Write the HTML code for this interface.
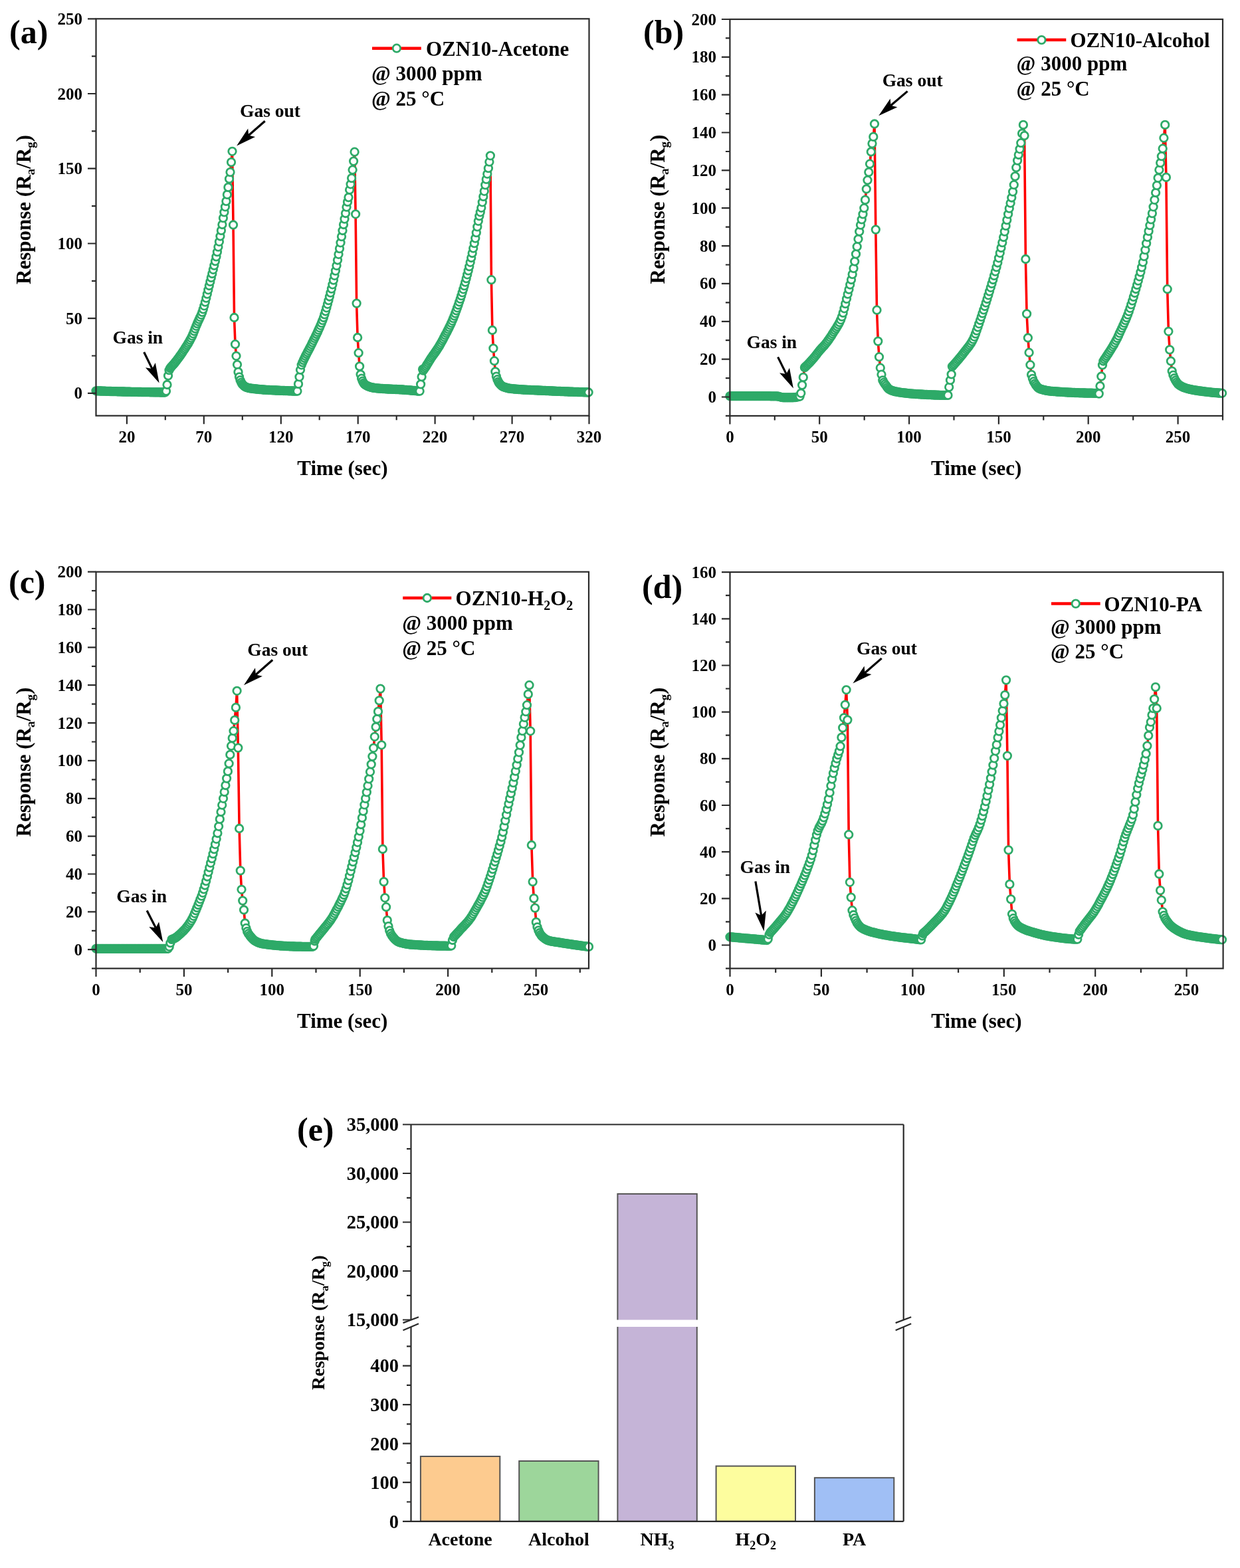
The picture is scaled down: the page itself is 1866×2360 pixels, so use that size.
<!DOCTYPE html><html><head><meta charset="utf-8"><style>html,body{margin:0;padding:0;background:#fff}svg{display:block}text{font-family:"Liberation Serif","Times New Roman",serif;font-weight:bold;fill:#000}</style></head><body>
<svg width="1866" height="2360" viewBox="0 0 1866 2360">
<rect width="1866" height="2360" fill="#fff"/>
<path d="M144.5 588.3 146 588.3 147.5 588.4 149 588.4 150.5 588.5 152 588.5 153.5 588.6 155.1 588.6 156.6 588.7 158.1 588.7 159.6 588.8 161.1 588.8 162.6 588.9 164.1 588.9 165.6 589 167.1 589 168.6 589.1 170.1 589.1 171.6 589.2 173.1 589.2 174.6 589.2 176.2 589.3 177.7 589.3 179.2 589.4 180.7 589.4 182.2 589.4 183.7 589.5 185.2 589.5 186.7 589.5 188.2 589.6 189.7 589.6 191.2 589.6 192.7 589.7 194.2 589.7 195.7 589.7 197.3 589.8 198.8 589.8 200.3 589.8 201.8 589.8 203.3 589.9 204.8 589.9 206.3 589.9 207.8 590 209.3 590 210.8 590 212.3 590 213.8 590.1 215.3 590.1 216.8 590.1 218.4 590.1 219.9 590.2 221.4 590.2 222.9 590.2 224.4 590.2 225.9 590.3 227.4 590.3 228.9 590.3 230.4 590.3 231.9 590.4 233.4 590.4 234.9 590.4 236.4 590.4 237.9 590.4 239.5 590.4 241 590.5 242.5 590.5 244 590.5 245.5 590.5 247 590.5 248.5 590.5 250 588.7 251.5 579 253 565.5 254.5 557.2 256 554.2 257.5 552.4 259 550.7 260.6 549 262.1 547.2 263.6 545.4 265.1 543.5 266.6 541.5 268.1 539.5 269.6 537.5 271.1 535.4 272.6 533.2 274.1 531 275.6 528.8 277.1 526.5 278.6 524.1 280.1 521.8 281.7 519.4 283.2 516.9 284.7 514.3 286.2 511.6 287.7 508.8 289.2 505.7 290.7 502.3 292.2 498.5 293.7 494.6 295.2 490.8 296.7 487.1 298.2 483.8 299.7 480.6 301.2 477.3 302.8 473.8 304.3 469.9 305.8 465.4 307.3 460.3 308.8 454.7 310.3 448.7 311.8 442.6 313.3 436.3 314.8 430 316.3 423.9 317.8 417.9 319.3 411.9 320.8 405.8 322.3 399.6 323.9 393.1 325.4 386.4 326.9 379.2 328.4 371.7 329.9 363.8 331.4 355.5 332.9 346.9 334.4 338 335.9 328.1 337.4 319.4 338.9 311.3 340.4 302.9 341.9 292.9 343.4 281.9 345 269.2 346.5 259.1 348 244.1 349.5 227.8 351 338.5 352.5 478 354 518.2 355.5 535.8 357 548.8 358.5 559.9 360 567.3 361.5 572.2 363 575.6 364.5 578.1 366.1 579.7 367.6 581.1 369.1 582.2 370.6 582.9 372.1 583.4 373.6 583.8 375.1 584.1 376.6 584.4 378.1 584.6 379.6 584.8 381.1 585 382.6 585.2 384.1 585.4 385.7 585.5 387.2 585.7 388.7 585.8 390.2 586 391.7 586.1 393.2 586.2 394.7 586.4 396.2 586.5 397.7 586.6 399.2 586.7 400.7 586.8 402.2 586.9 403.7 587 405.2 587 406.8 587.1 408.3 587.2 409.8 587.3 411.3 587.3 412.8 587.4 414.3 587.5 415.8 587.5 417.3 587.6 418.8 587.7 420.3 587.7 421.8 587.8 423.3 587.9 424.8 587.9 426.3 588 427.9 588 429.4 588.1 430.9 588.2 432.4 588.2 433.9 588.3 435.4 588.3 436.9 588.4 438.4 588.4 439.9 588.5 441.4 588.5 442.9 588.6 444.4 588.6 445.9 588.7 447.4 588.7 449 577.9 450.5 567.3 452 556.7 453.7 549.3 455.2 545.5 456.7 542.1 458.2 539 459.7 535.9 461.2 533 462.7 530.1 464.3 527.3 465.8 524.4 467.3 521.5 468.8 518.5 470.3 515.4 471.8 512.3 473.3 509.2 474.8 506.1 476.3 503 477.8 499.9 479.3 496.6 480.8 493.3 482.3 489.8 483.8 486.1 485.4 482.2 486.9 478 488.4 473.4 489.9 468.5 491.4 463.3 492.9 457.8 494.4 452.2 495.9 446.5 497.4 440.6 498.9 434.6 500.4 428.3 501.9 421.7 503.4 414.8 504.9 407.6 506.5 399.8 508 391.5 509.5 382.8 511 374.1 512.5 365.3 514 356.1 515.5 347 517 338 518.5 329.6 520 321 521.5 311.7 523 303.9 524.5 297.1 526.1 285.7 527.6 277.3 529.1 268.1 530.6 255.7 532.1 242.6 533.6 228.7 535.1 322.3 536.6 456.6 538.1 508 539.6 531.2 541.1 551.4 542.6 563.6 544.1 569.7 545.6 573.7 547.2 576.6 548.7 578.5 550.2 579.5 551.7 580.3 553.2 581.1 554.7 581.7 556.2 582.3 557.7 582.7 559.2 583.1 560.7 583.5 562.2 583.7 563.7 583.9 565.2 584.1 566.7 584.3 568.3 584.4 569.8 584.6 571.3 584.7 572.8 584.8 574.3 584.9 575.8 585 577.3 585.1 578.8 585.2 580.3 585.3 581.8 585.4 583.3 585.5 584.8 585.5 586.3 585.6 587.8 585.7 589.4 585.7 590.9 585.8 592.4 585.9 593.9 585.9 595.4 586 596.9 586 598.4 586.1 599.9 586.2 601.4 586.3 602.9 586.4 604.4 586.4 605.9 586.5 607.4 586.6 608.9 586.8 610.5 586.9 612 587 613.5 587.1 615 587.2 616.5 587.4 618 587.5 619.5 587.6 621 587.8 622.5 587.9 624 588 625.5 588.2 627 588.3 628.5 588.5 630 588.6 631.6 588.7 633.1 578.4 634.6 567.1 636.1 555.8 636.9 557.6 638.4 555.5 639.9 553.2 641.4 550.9 642.9 548.4 644.4 546 645.9 543.5 647.4 541.1 648.9 538.7 650.5 536.5 652 534.3 653.5 532.2 655 530.1 656.5 527.9 658 525.7 659.5 523.4 661 521 662.5 518.4 664 515.8 665.5 513 667 510.2 668.5 507.3 670 504.4 671.6 501.5 673.1 498.6 674.6 495.6 676.1 492.6 677.6 489.5 679.1 486.2 680.6 482.8 682.1 479.2 683.6 475.5 685.1 471.6 686.6 467.5 688.1 463.3 689.6 459 691.1 454.5 692.7 449.9 694.2 445.2 695.7 440.3 697.2 435.3 698.7 430.1 700.2 424.7 701.7 419.1 703.2 413.3 704.7 407.4 706.2 401.2 707.7 394.8 709.2 388 710.7 381 712.2 373.7 713.8 366.2 715.3 358.6 716.8 350.2 718.3 341.4 719.8 332.8 721.3 325.2 722.8 319.3 724.3 312.8 725.8 304.3 727.3 295.9 728.8 287.8 730.3 278.4 731.8 269.9 733.3 261.8 734.9 253.2 736.4 243.7 737.9 234.3 739.4 421.2 740.9 497 742.4 524.3 743.9 543.2 745.4 559.4 746.9 566.6 748.4 571.2 749.9 574.6 751.4 576.9 752.9 578.8 754.4 580.3 756 581.4 757.5 582.1 759 582.6 760.5 583.1 762 583.6 763.5 584 765 584.3 766.5 584.6 768 584.8 769.5 585 771 585.2 772.5 585.3 774 585.5 775.5 585.6 777.1 585.7 778.6 585.9 780.1 586 781.6 586.1 783.1 586.2 784.6 586.3 786.1 586.4 787.6 586.5 789.1 586.6 790.6 586.7 792.1 586.7 793.6 586.8 795.1 586.9 796.6 587 798.2 587 799.7 587.1 801.2 587.2 802.7 587.2 804.2 587.3 805.7 587.3 807.2 587.4 808.7 587.5 810.2 587.5 811.7 587.6 813.2 587.7 814.7 587.7 816.2 587.8 817.7 587.9 819.3 587.9 820.8 588 822.3 588.1 823.8 588.1 825.3 588.2 826.8 588.3 828.3 588.4 829.8 588.4 831.3 588.5 832.8 588.6 834.3 588.6 835.8 588.7 837.3 588.8 838.8 588.8 840.4 588.9 841.9 588.9 843.4 589 844.9 589.1 846.4 589.1 847.9 589.2 849.4 589.3 850.9 589.3 852.4 589.4 853.9 589.4 855.4 589.5 856.9 589.6 858.4 589.6 860 589.7 861.5 589.7 863 589.8 864.5 589.8 866 589.9 867.5 589.9 869 590 870.5 590 872 590.1 873.5 590.1 875 590.2 876.5 590.2 878 590.3 879.5 590.3 881.1 590.4 882.6 590.4 884.1 590.5 885.6 590.5" stroke="#ff0000" stroke-width="3.6" fill="none" stroke-linejoin="round"/>
<g fill="#fff" stroke="#2eaa68" stroke-width="2.8">
<circle cx="144.5" cy="588.3" r="5.75"/>
<circle cx="146" cy="588.3" r="5.75"/>
<circle cx="147.5" cy="588.4" r="5.75"/>
<circle cx="149" cy="588.4" r="5.75"/>
<circle cx="150.5" cy="588.5" r="5.75"/>
<circle cx="152" cy="588.5" r="5.75"/>
<circle cx="153.5" cy="588.6" r="5.75"/>
<circle cx="155.1" cy="588.6" r="5.75"/>
<circle cx="156.6" cy="588.7" r="5.75"/>
<circle cx="158.1" cy="588.7" r="5.75"/>
<circle cx="159.6" cy="588.8" r="5.75"/>
<circle cx="161.1" cy="588.8" r="5.75"/>
<circle cx="162.6" cy="588.9" r="5.75"/>
<circle cx="164.1" cy="588.9" r="5.75"/>
<circle cx="165.6" cy="589" r="5.75"/>
<circle cx="167.1" cy="589" r="5.75"/>
<circle cx="168.6" cy="589.1" r="5.75"/>
<circle cx="170.1" cy="589.1" r="5.75"/>
<circle cx="171.6" cy="589.2" r="5.75"/>
<circle cx="173.1" cy="589.2" r="5.75"/>
<circle cx="174.6" cy="589.2" r="5.75"/>
<circle cx="176.2" cy="589.3" r="5.75"/>
<circle cx="177.7" cy="589.3" r="5.75"/>
<circle cx="179.2" cy="589.4" r="5.75"/>
<circle cx="180.7" cy="589.4" r="5.75"/>
<circle cx="182.2" cy="589.4" r="5.75"/>
<circle cx="183.7" cy="589.5" r="5.75"/>
<circle cx="185.2" cy="589.5" r="5.75"/>
<circle cx="186.7" cy="589.5" r="5.75"/>
<circle cx="188.2" cy="589.6" r="5.75"/>
<circle cx="189.7" cy="589.6" r="5.75"/>
<circle cx="191.2" cy="589.6" r="5.75"/>
<circle cx="192.7" cy="589.7" r="5.75"/>
<circle cx="194.2" cy="589.7" r="5.75"/>
<circle cx="195.7" cy="589.7" r="5.75"/>
<circle cx="197.3" cy="589.8" r="5.75"/>
<circle cx="198.8" cy="589.8" r="5.75"/>
<circle cx="200.3" cy="589.8" r="5.75"/>
<circle cx="201.8" cy="589.8" r="5.75"/>
<circle cx="203.3" cy="589.9" r="5.75"/>
<circle cx="204.8" cy="589.9" r="5.75"/>
<circle cx="206.3" cy="589.9" r="5.75"/>
<circle cx="207.8" cy="590" r="5.75"/>
<circle cx="209.3" cy="590" r="5.75"/>
<circle cx="210.8" cy="590" r="5.75"/>
<circle cx="212.3" cy="590" r="5.75"/>
<circle cx="213.8" cy="590.1" r="5.75"/>
<circle cx="215.3" cy="590.1" r="5.75"/>
<circle cx="216.8" cy="590.1" r="5.75"/>
<circle cx="218.4" cy="590.1" r="5.75"/>
<circle cx="219.9" cy="590.2" r="5.75"/>
<circle cx="221.4" cy="590.2" r="5.75"/>
<circle cx="222.9" cy="590.2" r="5.75"/>
<circle cx="224.4" cy="590.2" r="5.75"/>
<circle cx="225.9" cy="590.3" r="5.75"/>
<circle cx="227.4" cy="590.3" r="5.75"/>
<circle cx="228.9" cy="590.3" r="5.75"/>
<circle cx="230.4" cy="590.3" r="5.75"/>
<circle cx="231.9" cy="590.4" r="5.75"/>
<circle cx="233.4" cy="590.4" r="5.75"/>
<circle cx="234.9" cy="590.4" r="5.75"/>
<circle cx="236.4" cy="590.4" r="5.75"/>
<circle cx="237.9" cy="590.4" r="5.75"/>
<circle cx="239.5" cy="590.4" r="5.75"/>
<circle cx="241" cy="590.5" r="5.75"/>
<circle cx="242.5" cy="590.5" r="5.75"/>
<circle cx="244" cy="590.5" r="5.75"/>
<circle cx="245.5" cy="590.5" r="5.75"/>
<circle cx="247" cy="590.5" r="5.75"/>
<circle cx="248.5" cy="590.5" r="5.75"/>
<circle cx="250" cy="588.7" r="5.75"/>
<circle cx="251.5" cy="579" r="5.75"/>
<circle cx="253" cy="565.5" r="5.75"/>
<circle cx="254.5" cy="557.2" r="5.75"/>
<circle cx="256" cy="554.2" r="5.75"/>
<circle cx="257.5" cy="552.4" r="5.75"/>
<circle cx="259" cy="550.7" r="5.75"/>
<circle cx="260.6" cy="549" r="5.75"/>
<circle cx="262.1" cy="547.2" r="5.75"/>
<circle cx="263.6" cy="545.4" r="5.75"/>
<circle cx="265.1" cy="543.5" r="5.75"/>
<circle cx="266.6" cy="541.5" r="5.75"/>
<circle cx="268.1" cy="539.5" r="5.75"/>
<circle cx="269.6" cy="537.5" r="5.75"/>
<circle cx="271.1" cy="535.4" r="5.75"/>
<circle cx="272.6" cy="533.2" r="5.75"/>
<circle cx="274.1" cy="531" r="5.75"/>
<circle cx="275.6" cy="528.8" r="5.75"/>
<circle cx="277.1" cy="526.5" r="5.75"/>
<circle cx="278.6" cy="524.1" r="5.75"/>
<circle cx="280.1" cy="521.8" r="5.75"/>
<circle cx="281.7" cy="519.4" r="5.75"/>
<circle cx="283.2" cy="516.9" r="5.75"/>
<circle cx="284.7" cy="514.3" r="5.75"/>
<circle cx="286.2" cy="511.6" r="5.75"/>
<circle cx="287.7" cy="508.8" r="5.75"/>
<circle cx="289.2" cy="505.7" r="5.75"/>
<circle cx="290.7" cy="502.3" r="5.75"/>
<circle cx="292.2" cy="498.5" r="5.75"/>
<circle cx="293.7" cy="494.6" r="5.75"/>
<circle cx="295.2" cy="490.8" r="5.75"/>
<circle cx="296.7" cy="487.1" r="5.75"/>
<circle cx="298.2" cy="483.8" r="5.75"/>
<circle cx="299.7" cy="480.6" r="5.75"/>
<circle cx="301.2" cy="477.3" r="5.75"/>
<circle cx="302.8" cy="473.8" r="5.75"/>
<circle cx="304.3" cy="469.9" r="5.75"/>
<circle cx="305.8" cy="465.4" r="5.75"/>
<circle cx="307.3" cy="460.3" r="5.75"/>
<circle cx="308.8" cy="454.7" r="5.75"/>
<circle cx="310.3" cy="448.7" r="5.75"/>
<circle cx="311.8" cy="442.6" r="5.75"/>
<circle cx="313.3" cy="436.3" r="5.75"/>
<circle cx="314.8" cy="430" r="5.75"/>
<circle cx="316.3" cy="423.9" r="5.75"/>
<circle cx="317.8" cy="417.9" r="5.75"/>
<circle cx="319.3" cy="411.9" r="5.75"/>
<circle cx="320.8" cy="405.8" r="5.75"/>
<circle cx="322.3" cy="399.6" r="5.75"/>
<circle cx="323.9" cy="393.1" r="5.75"/>
<circle cx="325.4" cy="386.4" r="5.75"/>
<circle cx="326.9" cy="379.2" r="5.75"/>
<circle cx="328.4" cy="371.7" r="5.75"/>
<circle cx="329.9" cy="363.8" r="5.75"/>
<circle cx="331.4" cy="355.5" r="5.75"/>
<circle cx="332.9" cy="346.9" r="5.75"/>
<circle cx="334.4" cy="338" r="5.75"/>
<circle cx="335.9" cy="328.1" r="5.75"/>
<circle cx="337.4" cy="319.4" r="5.75"/>
<circle cx="338.9" cy="311.3" r="5.75"/>
<circle cx="340.4" cy="302.9" r="5.75"/>
<circle cx="341.9" cy="292.9" r="5.75"/>
<circle cx="343.4" cy="281.9" r="5.75"/>
<circle cx="345" cy="269.2" r="5.75"/>
<circle cx="346.5" cy="259.1" r="5.75"/>
<circle cx="348" cy="244.1" r="5.75"/>
<circle cx="349.5" cy="227.8" r="5.75"/>
<circle cx="351" cy="338.5" r="5.75"/>
<circle cx="352.5" cy="478" r="5.75"/>
<circle cx="354" cy="518.2" r="5.75"/>
<circle cx="355.5" cy="535.8" r="5.75"/>
<circle cx="357" cy="548.8" r="5.75"/>
<circle cx="358.5" cy="559.9" r="5.75"/>
<circle cx="360" cy="567.3" r="5.75"/>
<circle cx="361.5" cy="572.2" r="5.75"/>
<circle cx="363" cy="575.6" r="5.75"/>
<circle cx="364.5" cy="578.1" r="5.75"/>
<circle cx="366.1" cy="579.7" r="5.75"/>
<circle cx="367.6" cy="581.1" r="5.75"/>
<circle cx="369.1" cy="582.2" r="5.75"/>
<circle cx="370.6" cy="582.9" r="5.75"/>
<circle cx="372.1" cy="583.4" r="5.75"/>
<circle cx="373.6" cy="583.8" r="5.75"/>
<circle cx="375.1" cy="584.1" r="5.75"/>
<circle cx="376.6" cy="584.4" r="5.75"/>
<circle cx="378.1" cy="584.6" r="5.75"/>
<circle cx="379.6" cy="584.8" r="5.75"/>
<circle cx="381.1" cy="585" r="5.75"/>
<circle cx="382.6" cy="585.2" r="5.75"/>
<circle cx="384.1" cy="585.4" r="5.75"/>
<circle cx="385.7" cy="585.5" r="5.75"/>
<circle cx="387.2" cy="585.7" r="5.75"/>
<circle cx="388.7" cy="585.8" r="5.75"/>
<circle cx="390.2" cy="586" r="5.75"/>
<circle cx="391.7" cy="586.1" r="5.75"/>
<circle cx="393.2" cy="586.2" r="5.75"/>
<circle cx="394.7" cy="586.4" r="5.75"/>
<circle cx="396.2" cy="586.5" r="5.75"/>
<circle cx="397.7" cy="586.6" r="5.75"/>
<circle cx="399.2" cy="586.7" r="5.75"/>
<circle cx="400.7" cy="586.8" r="5.75"/>
<circle cx="402.2" cy="586.9" r="5.75"/>
<circle cx="403.7" cy="587" r="5.75"/>
<circle cx="405.2" cy="587" r="5.75"/>
<circle cx="406.8" cy="587.1" r="5.75"/>
<circle cx="408.3" cy="587.2" r="5.75"/>
<circle cx="409.8" cy="587.3" r="5.75"/>
<circle cx="411.3" cy="587.3" r="5.75"/>
<circle cx="412.8" cy="587.4" r="5.75"/>
<circle cx="414.3" cy="587.5" r="5.75"/>
<circle cx="415.8" cy="587.5" r="5.75"/>
<circle cx="417.3" cy="587.6" r="5.75"/>
<circle cx="418.8" cy="587.7" r="5.75"/>
<circle cx="420.3" cy="587.7" r="5.75"/>
<circle cx="421.8" cy="587.8" r="5.75"/>
<circle cx="423.3" cy="587.9" r="5.75"/>
<circle cx="424.8" cy="587.9" r="5.75"/>
<circle cx="426.3" cy="588" r="5.75"/>
<circle cx="427.9" cy="588" r="5.75"/>
<circle cx="429.4" cy="588.1" r="5.75"/>
<circle cx="430.9" cy="588.2" r="5.75"/>
<circle cx="432.4" cy="588.2" r="5.75"/>
<circle cx="433.9" cy="588.3" r="5.75"/>
<circle cx="435.4" cy="588.3" r="5.75"/>
<circle cx="436.9" cy="588.4" r="5.75"/>
<circle cx="438.4" cy="588.4" r="5.75"/>
<circle cx="439.9" cy="588.5" r="5.75"/>
<circle cx="441.4" cy="588.5" r="5.75"/>
<circle cx="442.9" cy="588.6" r="5.75"/>
<circle cx="444.4" cy="588.6" r="5.75"/>
<circle cx="445.9" cy="588.7" r="5.75"/>
<circle cx="447.4" cy="588.7" r="5.75"/>
<circle cx="449" cy="577.9" r="5.75"/>
<circle cx="450.5" cy="567.3" r="5.75"/>
<circle cx="452" cy="556.7" r="5.75"/>
<circle cx="453.7" cy="549.3" r="5.75"/>
<circle cx="455.2" cy="545.5" r="5.75"/>
<circle cx="456.7" cy="542.1" r="5.75"/>
<circle cx="458.2" cy="539" r="5.75"/>
<circle cx="459.7" cy="535.9" r="5.75"/>
<circle cx="461.2" cy="533" r="5.75"/>
<circle cx="462.7" cy="530.1" r="5.75"/>
<circle cx="464.3" cy="527.3" r="5.75"/>
<circle cx="465.8" cy="524.4" r="5.75"/>
<circle cx="467.3" cy="521.5" r="5.75"/>
<circle cx="468.8" cy="518.5" r="5.75"/>
<circle cx="470.3" cy="515.4" r="5.75"/>
<circle cx="471.8" cy="512.3" r="5.75"/>
<circle cx="473.3" cy="509.2" r="5.75"/>
<circle cx="474.8" cy="506.1" r="5.75"/>
<circle cx="476.3" cy="503" r="5.75"/>
<circle cx="477.8" cy="499.9" r="5.75"/>
<circle cx="479.3" cy="496.6" r="5.75"/>
<circle cx="480.8" cy="493.3" r="5.75"/>
<circle cx="482.3" cy="489.8" r="5.75"/>
<circle cx="483.8" cy="486.1" r="5.75"/>
<circle cx="485.4" cy="482.2" r="5.75"/>
<circle cx="486.9" cy="478" r="5.75"/>
<circle cx="488.4" cy="473.4" r="5.75"/>
<circle cx="489.9" cy="468.5" r="5.75"/>
<circle cx="491.4" cy="463.3" r="5.75"/>
<circle cx="492.9" cy="457.8" r="5.75"/>
<circle cx="494.4" cy="452.2" r="5.75"/>
<circle cx="495.9" cy="446.5" r="5.75"/>
<circle cx="497.4" cy="440.6" r="5.75"/>
<circle cx="498.9" cy="434.6" r="5.75"/>
<circle cx="500.4" cy="428.3" r="5.75"/>
<circle cx="501.9" cy="421.7" r="5.75"/>
<circle cx="503.4" cy="414.8" r="5.75"/>
<circle cx="504.9" cy="407.6" r="5.75"/>
<circle cx="506.5" cy="399.8" r="5.75"/>
<circle cx="508" cy="391.5" r="5.75"/>
<circle cx="509.5" cy="382.8" r="5.75"/>
<circle cx="511" cy="374.1" r="5.75"/>
<circle cx="512.5" cy="365.3" r="5.75"/>
<circle cx="514" cy="356.1" r="5.75"/>
<circle cx="515.5" cy="347" r="5.75"/>
<circle cx="517" cy="338" r="5.75"/>
<circle cx="518.5" cy="329.6" r="5.75"/>
<circle cx="520" cy="321" r="5.75"/>
<circle cx="521.5" cy="311.7" r="5.75"/>
<circle cx="523" cy="303.9" r="5.75"/>
<circle cx="524.5" cy="297.1" r="5.75"/>
<circle cx="526.1" cy="285.7" r="5.75"/>
<circle cx="527.6" cy="277.3" r="5.75"/>
<circle cx="529.1" cy="268.1" r="5.75"/>
<circle cx="530.6" cy="255.7" r="5.75"/>
<circle cx="532.1" cy="242.6" r="5.75"/>
<circle cx="533.6" cy="228.7" r="5.75"/>
<circle cx="535.1" cy="322.3" r="5.75"/>
<circle cx="536.6" cy="456.6" r="5.75"/>
<circle cx="538.1" cy="508" r="5.75"/>
<circle cx="539.6" cy="531.2" r="5.75"/>
<circle cx="541.1" cy="551.4" r="5.75"/>
<circle cx="542.6" cy="563.6" r="5.75"/>
<circle cx="544.1" cy="569.7" r="5.75"/>
<circle cx="545.6" cy="573.7" r="5.75"/>
<circle cx="547.2" cy="576.6" r="5.75"/>
<circle cx="548.7" cy="578.5" r="5.75"/>
<circle cx="550.2" cy="579.5" r="5.75"/>
<circle cx="551.7" cy="580.3" r="5.75"/>
<circle cx="553.2" cy="581.1" r="5.75"/>
<circle cx="554.7" cy="581.7" r="5.75"/>
<circle cx="556.2" cy="582.3" r="5.75"/>
<circle cx="557.7" cy="582.7" r="5.75"/>
<circle cx="559.2" cy="583.1" r="5.75"/>
<circle cx="560.7" cy="583.5" r="5.75"/>
<circle cx="562.2" cy="583.7" r="5.75"/>
<circle cx="563.7" cy="583.9" r="5.75"/>
<circle cx="565.2" cy="584.1" r="5.75"/>
<circle cx="566.7" cy="584.3" r="5.75"/>
<circle cx="568.3" cy="584.4" r="5.75"/>
<circle cx="569.8" cy="584.6" r="5.75"/>
<circle cx="571.3" cy="584.7" r="5.75"/>
<circle cx="572.8" cy="584.8" r="5.75"/>
<circle cx="574.3" cy="584.9" r="5.75"/>
<circle cx="575.8" cy="585" r="5.75"/>
<circle cx="577.3" cy="585.1" r="5.75"/>
<circle cx="578.8" cy="585.2" r="5.75"/>
<circle cx="580.3" cy="585.3" r="5.75"/>
<circle cx="581.8" cy="585.4" r="5.75"/>
<circle cx="583.3" cy="585.5" r="5.75"/>
<circle cx="584.8" cy="585.5" r="5.75"/>
<circle cx="586.3" cy="585.6" r="5.75"/>
<circle cx="587.8" cy="585.7" r="5.75"/>
<circle cx="589.4" cy="585.7" r="5.75"/>
<circle cx="590.9" cy="585.8" r="5.75"/>
<circle cx="592.4" cy="585.9" r="5.75"/>
<circle cx="593.9" cy="585.9" r="5.75"/>
<circle cx="595.4" cy="586" r="5.75"/>
<circle cx="596.9" cy="586" r="5.75"/>
<circle cx="598.4" cy="586.1" r="5.75"/>
<circle cx="599.9" cy="586.2" r="5.75"/>
<circle cx="601.4" cy="586.3" r="5.75"/>
<circle cx="602.9" cy="586.4" r="5.75"/>
<circle cx="604.4" cy="586.4" r="5.75"/>
<circle cx="605.9" cy="586.5" r="5.75"/>
<circle cx="607.4" cy="586.6" r="5.75"/>
<circle cx="608.9" cy="586.8" r="5.75"/>
<circle cx="610.5" cy="586.9" r="5.75"/>
<circle cx="612" cy="587" r="5.75"/>
<circle cx="613.5" cy="587.1" r="5.75"/>
<circle cx="615" cy="587.2" r="5.75"/>
<circle cx="616.5" cy="587.4" r="5.75"/>
<circle cx="618" cy="587.5" r="5.75"/>
<circle cx="619.5" cy="587.6" r="5.75"/>
<circle cx="621" cy="587.8" r="5.75"/>
<circle cx="622.5" cy="587.9" r="5.75"/>
<circle cx="624" cy="588" r="5.75"/>
<circle cx="625.5" cy="588.2" r="5.75"/>
<circle cx="627" cy="588.3" r="5.75"/>
<circle cx="628.5" cy="588.5" r="5.75"/>
<circle cx="630" cy="588.6" r="5.75"/>
<circle cx="631.6" cy="588.7" r="5.75"/>
<circle cx="633.1" cy="578.4" r="5.75"/>
<circle cx="634.6" cy="567.1" r="5.75"/>
<circle cx="636.1" cy="555.8" r="5.75"/>
<circle cx="636.9" cy="557.6" r="5.75"/>
<circle cx="638.4" cy="555.5" r="5.75"/>
<circle cx="639.9" cy="553.2" r="5.75"/>
<circle cx="641.4" cy="550.9" r="5.75"/>
<circle cx="642.9" cy="548.4" r="5.75"/>
<circle cx="644.4" cy="546" r="5.75"/>
<circle cx="645.9" cy="543.5" r="5.75"/>
<circle cx="647.4" cy="541.1" r="5.75"/>
<circle cx="648.9" cy="538.7" r="5.75"/>
<circle cx="650.5" cy="536.5" r="5.75"/>
<circle cx="652" cy="534.3" r="5.75"/>
<circle cx="653.5" cy="532.2" r="5.75"/>
<circle cx="655" cy="530.1" r="5.75"/>
<circle cx="656.5" cy="527.9" r="5.75"/>
<circle cx="658" cy="525.7" r="5.75"/>
<circle cx="659.5" cy="523.4" r="5.75"/>
<circle cx="661" cy="521" r="5.75"/>
<circle cx="662.5" cy="518.4" r="5.75"/>
<circle cx="664" cy="515.8" r="5.75"/>
<circle cx="665.5" cy="513" r="5.75"/>
<circle cx="667" cy="510.2" r="5.75"/>
<circle cx="668.5" cy="507.3" r="5.75"/>
<circle cx="670" cy="504.4" r="5.75"/>
<circle cx="671.6" cy="501.5" r="5.75"/>
<circle cx="673.1" cy="498.6" r="5.75"/>
<circle cx="674.6" cy="495.6" r="5.75"/>
<circle cx="676.1" cy="492.6" r="5.75"/>
<circle cx="677.6" cy="489.5" r="5.75"/>
<circle cx="679.1" cy="486.2" r="5.75"/>
<circle cx="680.6" cy="482.8" r="5.75"/>
<circle cx="682.1" cy="479.2" r="5.75"/>
<circle cx="683.6" cy="475.5" r="5.75"/>
<circle cx="685.1" cy="471.6" r="5.75"/>
<circle cx="686.6" cy="467.5" r="5.75"/>
<circle cx="688.1" cy="463.3" r="5.75"/>
<circle cx="689.6" cy="459" r="5.75"/>
<circle cx="691.1" cy="454.5" r="5.75"/>
<circle cx="692.7" cy="449.9" r="5.75"/>
<circle cx="694.2" cy="445.2" r="5.75"/>
<circle cx="695.7" cy="440.3" r="5.75"/>
<circle cx="697.2" cy="435.3" r="5.75"/>
<circle cx="698.7" cy="430.1" r="5.75"/>
<circle cx="700.2" cy="424.7" r="5.75"/>
<circle cx="701.7" cy="419.1" r="5.75"/>
<circle cx="703.2" cy="413.3" r="5.75"/>
<circle cx="704.7" cy="407.4" r="5.75"/>
<circle cx="706.2" cy="401.2" r="5.75"/>
<circle cx="707.7" cy="394.8" r="5.75"/>
<circle cx="709.2" cy="388" r="5.75"/>
<circle cx="710.7" cy="381" r="5.75"/>
<circle cx="712.2" cy="373.7" r="5.75"/>
<circle cx="713.8" cy="366.2" r="5.75"/>
<circle cx="715.3" cy="358.6" r="5.75"/>
<circle cx="716.8" cy="350.2" r="5.75"/>
<circle cx="718.3" cy="341.4" r="5.75"/>
<circle cx="719.8" cy="332.8" r="5.75"/>
<circle cx="721.3" cy="325.2" r="5.75"/>
<circle cx="722.8" cy="319.3" r="5.75"/>
<circle cx="724.3" cy="312.8" r="5.75"/>
<circle cx="725.8" cy="304.3" r="5.75"/>
<circle cx="727.3" cy="295.9" r="5.75"/>
<circle cx="728.8" cy="287.8" r="5.75"/>
<circle cx="730.3" cy="278.4" r="5.75"/>
<circle cx="731.8" cy="269.9" r="5.75"/>
<circle cx="733.3" cy="261.8" r="5.75"/>
<circle cx="734.9" cy="253.2" r="5.75"/>
<circle cx="736.4" cy="243.7" r="5.75"/>
<circle cx="737.9" cy="234.3" r="5.75"/>
<circle cx="739.4" cy="421.2" r="5.75"/>
<circle cx="740.9" cy="497" r="5.75"/>
<circle cx="742.4" cy="524.3" r="5.75"/>
<circle cx="743.9" cy="543.2" r="5.75"/>
<circle cx="745.4" cy="559.4" r="5.75"/>
<circle cx="746.9" cy="566.6" r="5.75"/>
<circle cx="748.4" cy="571.2" r="5.75"/>
<circle cx="749.9" cy="574.6" r="5.75"/>
<circle cx="751.4" cy="576.9" r="5.75"/>
<circle cx="752.9" cy="578.8" r="5.75"/>
<circle cx="754.4" cy="580.3" r="5.75"/>
<circle cx="756" cy="581.4" r="5.75"/>
<circle cx="757.5" cy="582.1" r="5.75"/>
<circle cx="759" cy="582.6" r="5.75"/>
<circle cx="760.5" cy="583.1" r="5.75"/>
<circle cx="762" cy="583.6" r="5.75"/>
<circle cx="763.5" cy="584" r="5.75"/>
<circle cx="765" cy="584.3" r="5.75"/>
<circle cx="766.5" cy="584.6" r="5.75"/>
<circle cx="768" cy="584.8" r="5.75"/>
<circle cx="769.5" cy="585" r="5.75"/>
<circle cx="771" cy="585.2" r="5.75"/>
<circle cx="772.5" cy="585.3" r="5.75"/>
<circle cx="774" cy="585.5" r="5.75"/>
<circle cx="775.5" cy="585.6" r="5.75"/>
<circle cx="777.1" cy="585.7" r="5.75"/>
<circle cx="778.6" cy="585.9" r="5.75"/>
<circle cx="780.1" cy="586" r="5.75"/>
<circle cx="781.6" cy="586.1" r="5.75"/>
<circle cx="783.1" cy="586.2" r="5.75"/>
<circle cx="784.6" cy="586.3" r="5.75"/>
<circle cx="786.1" cy="586.4" r="5.75"/>
<circle cx="787.6" cy="586.5" r="5.75"/>
<circle cx="789.1" cy="586.6" r="5.75"/>
<circle cx="790.6" cy="586.7" r="5.75"/>
<circle cx="792.1" cy="586.7" r="5.75"/>
<circle cx="793.6" cy="586.8" r="5.75"/>
<circle cx="795.1" cy="586.9" r="5.75"/>
<circle cx="796.6" cy="587" r="5.75"/>
<circle cx="798.2" cy="587" r="5.75"/>
<circle cx="799.7" cy="587.1" r="5.75"/>
<circle cx="801.2" cy="587.2" r="5.75"/>
<circle cx="802.7" cy="587.2" r="5.75"/>
<circle cx="804.2" cy="587.3" r="5.75"/>
<circle cx="805.7" cy="587.3" r="5.75"/>
<circle cx="807.2" cy="587.4" r="5.75"/>
<circle cx="808.7" cy="587.5" r="5.75"/>
<circle cx="810.2" cy="587.5" r="5.75"/>
<circle cx="811.7" cy="587.6" r="5.75"/>
<circle cx="813.2" cy="587.7" r="5.75"/>
<circle cx="814.7" cy="587.7" r="5.75"/>
<circle cx="816.2" cy="587.8" r="5.75"/>
<circle cx="817.7" cy="587.9" r="5.75"/>
<circle cx="819.3" cy="587.9" r="5.75"/>
<circle cx="820.8" cy="588" r="5.75"/>
<circle cx="822.3" cy="588.1" r="5.75"/>
<circle cx="823.8" cy="588.1" r="5.75"/>
<circle cx="825.3" cy="588.2" r="5.75"/>
<circle cx="826.8" cy="588.3" r="5.75"/>
<circle cx="828.3" cy="588.4" r="5.75"/>
<circle cx="829.8" cy="588.4" r="5.75"/>
<circle cx="831.3" cy="588.5" r="5.75"/>
<circle cx="832.8" cy="588.6" r="5.75"/>
<circle cx="834.3" cy="588.6" r="5.75"/>
<circle cx="835.8" cy="588.7" r="5.75"/>
<circle cx="837.3" cy="588.8" r="5.75"/>
<circle cx="838.8" cy="588.8" r="5.75"/>
<circle cx="840.4" cy="588.9" r="5.75"/>
<circle cx="841.9" cy="588.9" r="5.75"/>
<circle cx="843.4" cy="589" r="5.75"/>
<circle cx="844.9" cy="589.1" r="5.75"/>
<circle cx="846.4" cy="589.1" r="5.75"/>
<circle cx="847.9" cy="589.2" r="5.75"/>
<circle cx="849.4" cy="589.3" r="5.75"/>
<circle cx="850.9" cy="589.3" r="5.75"/>
<circle cx="852.4" cy="589.4" r="5.75"/>
<circle cx="853.9" cy="589.4" r="5.75"/>
<circle cx="855.4" cy="589.5" r="5.75"/>
<circle cx="856.9" cy="589.6" r="5.75"/>
<circle cx="858.4" cy="589.6" r="5.75"/>
<circle cx="860" cy="589.7" r="5.75"/>
<circle cx="861.5" cy="589.7" r="5.75"/>
<circle cx="863" cy="589.8" r="5.75"/>
<circle cx="864.5" cy="589.8" r="5.75"/>
<circle cx="866" cy="589.9" r="5.75"/>
<circle cx="867.5" cy="589.9" r="5.75"/>
<circle cx="869" cy="590" r="5.75"/>
<circle cx="870.5" cy="590" r="5.75"/>
<circle cx="872" cy="590.1" r="5.75"/>
<circle cx="873.5" cy="590.1" r="5.75"/>
<circle cx="875" cy="590.2" r="5.75"/>
<circle cx="876.5" cy="590.2" r="5.75"/>
<circle cx="878" cy="590.3" r="5.75"/>
<circle cx="879.5" cy="590.3" r="5.75"/>
<circle cx="881.1" cy="590.4" r="5.75"/>
<circle cx="882.6" cy="590.4" r="5.75"/>
<circle cx="884.1" cy="590.5" r="5.75"/>
<circle cx="885.6" cy="590.5" r="5.75"/>
</g>
<path d="M1098.4 596.1 1100.2 596.1 1101.9 596.1 1103.7 596.1 1105.4 596.1 1107.2 596.1 1108.9 596.1 1110.7 596.1 1112.4 596.1 1114.2 596.1 1115.9 596.1 1117.7 596.1 1119.4 596.1 1121.2 596.1 1122.9 596.1 1124.7 596.1 1126.4 596.1 1128.2 596.1 1130 596.1 1131.7 596.1 1133.5 596.1 1135.2 596.1 1137 596.1 1138.7 596.1 1140.5 596.1 1142.2 596.1 1144 596.2 1145.7 596.2 1147.5 596.2 1149.2 596.2 1151 596.2 1152.7 596.2 1154.5 596.2 1156.2 596.2 1158 596.2 1159.8 596.3 1161.5 596.3 1163.3 596.3 1165 596.3 1166.8 596.3 1168.5 596.3 1170.3 596.5 1172 596.8 1173.8 597.3 1175.5 597.8 1177.3 598.1 1179 598.3 1180.8 598.3 1182.5 598.3 1184.3 598.3 1186 598.3 1187.8 598.3 1189.5 598.3 1191.3 598.3 1193.1 598.3 1194.8 598.2 1196.6 598.1 1198.3 597.8 1200.1 597.4 1201.8 597 1203.6 596.6 1205.3 591.8 1207.1 579.6 1208.8 567.9 1210.9 553.1 1212.6 551.4 1214.4 549.8 1216.1 548 1217.9 546.2 1219.6 544.4 1221.4 542.4 1223.1 540.5 1224.9 538.4 1226.6 536.2 1228.4 534 1230.1 531.7 1231.9 529.5 1233.6 527.4 1235.4 525.4 1237.1 523.4 1238.9 521.5 1240.7 519.6 1242.4 517.5 1244.2 515.2 1245.9 512.9 1247.7 510.4 1249.4 507.8 1251.2 505.2 1252.9 502.4 1254.7 499.6 1256.4 496.9 1258.2 494.2 1259.9 491.4 1261.7 488.4 1263.4 485.1 1265.2 481.3 1266.9 476.7 1268.7 470.9 1270.5 464.3 1272.2 457.1 1274 449.8 1275.7 442.7 1277.5 435.7 1279.2 428.5 1281 421 1282.7 412.9 1284.5 403.9 1286.2 393.5 1288 382.4 1289.7 371.2 1291.5 359.8 1293.2 348.5 1295 338.7 1296.7 330.4 1298.5 322.4 1300.3 313.2 1302 300.9 1303.8 284.5 1305.5 271.2 1307.3 259.1 1309 246.7 1310.8 228.5 1312.5 216.1 1314.3 205.9 1316 186.5 1317.8 345.6 1319.5 466.7 1321.3 513.6 1323 537.2 1324.8 553.7 1326.5 563.7 1328.3 572.4 1330 575.7 1331.8 578.2 1333.6 580.6 1335.3 583.1 1337.1 585.1 1338.8 586.3 1340.6 587.2 1342.3 587.9 1344.1 588.5 1345.8 589 1347.6 589.4 1349.3 589.7 1351.1 590 1352.8 590.3 1354.6 590.6 1356.3 590.8 1358.1 591.1 1359.8 591.3 1361.6 591.5 1363.4 591.7 1365.1 591.9 1366.9 592.1 1368.6 592.3 1370.4 592.4 1372.1 592.6 1373.9 592.7 1375.6 592.8 1377.4 593 1379.1 593.1 1380.9 593.2 1382.6 593.3 1384.4 593.4 1386.1 593.5 1387.9 593.6 1389.6 593.7 1391.4 593.8 1393.2 593.9 1394.9 594 1396.7 594.1 1398.4 594.1 1400.2 594.2 1401.9 594.3 1403.7 594.4 1405.4 594.5 1407.2 594.5 1408.9 594.6 1410.7 594.7 1412.4 594.7 1414.2 594.8 1415.9 594.8 1417.7 594.8 1419.4 594.9 1421.2 594.9 1423 594.9 1424.7 594.9 1426.5 594.9 1428.2 582.7 1430 572.2 1431.7 563.4 1432.9 551.6 1434.7 549.7 1436.4 547.8 1438.2 545.8 1439.9 543.8 1441.7 541.7 1443.4 539.6 1445.2 537.5 1447 535.3 1448.7 533.1 1450.5 530.8 1452.2 528.6 1454 526.3 1455.7 524.1 1457.5 521.9 1459.2 519.5 1461 516.9 1462.7 514 1464.5 510.7 1466.2 506.8 1468 502.4 1469.7 497.6 1471.5 492.5 1473.2 487.3 1475 482 1476.8 476.8 1478.5 471.6 1480.3 466.4 1482 461 1483.8 455.6 1485.5 450 1487.3 444.3 1489 438.6 1490.8 432.8 1492.5 426.9 1494.3 421 1496 414.9 1497.8 408.7 1499.5 402.2 1501.3 395.5 1503 388.3 1504.8 380.8 1506.5 373 1508.3 365.1 1510.1 357 1511.8 348.6 1513.6 339.9 1515.3 331.1 1517.1 322.3 1518.8 313.7 1520.6 305.7 1522.3 297.5 1524.1 288.6 1525.8 278.2 1527.6 265.4 1529.3 252.2 1531.1 241.6 1532.8 233 1534.6 224.3 1536.3 215.2 1538.1 200.9 1539.9 187.9 1541.6 204.1 1543.4 390 1545.1 472.4 1546.9 508.5 1548.6 530.7 1550.4 549.2 1552.1 563.9 1553.9 569.8 1555.6 574.2 1557.4 577.3 1559.1 579.9 1560.9 582.1 1562.6 583.9 1564.4 585 1566.1 585.7 1567.9 586.2 1569.7 586.7 1571.4 587.2 1573.2 587.5 1574.9 587.9 1576.7 588.2 1578.4 588.4 1580.2 588.6 1581.9 588.8 1583.7 588.9 1585.4 589.1 1587.2 589.2 1588.9 589.3 1590.7 589.5 1592.4 589.6 1594.2 589.7 1595.9 589.8 1597.7 589.9 1599.5 590.1 1601.2 590.2 1603 590.3 1604.7 590.4 1606.5 590.5 1608.2 590.6 1610 590.7 1611.7 590.7 1613.5 590.8 1615.2 590.9 1617 591 1618.7 591.1 1620.5 591.1 1622.2 591.2 1624 591.3 1625.7 591.3 1627.5 591.4 1629.3 591.4 1631 591.5 1632.8 591.5 1634.5 591.6 1636.3 591.6 1638 591.7 1639.8 591.7 1641.5 591.7 1643.3 591.7 1645 591.8 1646.8 591.8 1648.5 591.8 1650.3 591.8 1652 591.8 1653.8 592.6 1655.5 581 1657.3 566.5 1659 549.4 1660.3 543.5 1662 540.8 1663.8 538.2 1665.5 535.6 1667.3 532.9 1669 530.2 1670.8 527.5 1672.5 524.7 1674.3 521.8 1676 518.9 1677.8 515.8 1679.5 512.5 1681.3 509 1683.1 505.3 1684.8 501.4 1686.6 497.5 1688.3 493.7 1690.1 489.9 1691.8 486.1 1693.6 482.2 1695.3 478.1 1697.1 473.7 1698.8 468.9 1700.6 463.8 1702.3 458.4 1704.1 452.7 1705.8 446.9 1707.6 441 1709.3 435 1711.1 428.9 1712.8 422.7 1714.6 416.3 1716.4 409.6 1718.1 402.4 1719.9 394.7 1721.6 385.9 1723.4 376.2 1725.1 366.4 1726.9 356.9 1728.6 347.9 1730.4 339.2 1732.1 330.4 1733.9 321.1 1735.6 311.3 1737.4 300.8 1739.1 290 1740.9 279.1 1742.6 267.8 1744.4 255.7 1746.2 245.1 1747.9 235.2 1749.7 223.7 1751.4 207.7 1753.2 187.9 1754.9 266.9 1756.7 435.2 1758.4 498.8 1760.2 526.4 1761.9 543.5 1763.7 558.6 1765.4 564.7 1767.2 569.1 1768.9 572.5 1770.7 575.3 1772.4 577.6 1774.2 579.2 1776 580.4 1777.7 581.4 1779.5 582.3 1781.2 583.1 1783 583.7 1784.7 584.3 1786.5 584.8 1788.2 585.3 1790 585.7 1791.7 586.1 1793.5 586.5 1795.2 586.8 1797 587.2 1798.7 587.5 1800.5 587.7 1802.2 588 1804 588.3 1805.8 588.5 1807.5 588.7 1809.3 589 1811 589.2 1812.8 589.4 1814.5 589.6 1816.3 589.8 1818 590 1819.8 590.2 1821.5 590.4 1823.3 590.6 1825 590.8 1826.8 590.9 1828.5 591.1 1830.3 591.2 1832 591.4 1833.8 591.5 1835.6 591.6 1837.3 591.7 1839.1 591.8" stroke="#ff0000" stroke-width="3.6" fill="none" stroke-linejoin="round"/>
<g fill="#fff" stroke="#2eaa68" stroke-width="2.8">
<circle cx="1098.4" cy="596.1" r="5.75"/>
<circle cx="1100.2" cy="596.1" r="5.75"/>
<circle cx="1101.9" cy="596.1" r="5.75"/>
<circle cx="1103.7" cy="596.1" r="5.75"/>
<circle cx="1105.4" cy="596.1" r="5.75"/>
<circle cx="1107.2" cy="596.1" r="5.75"/>
<circle cx="1108.9" cy="596.1" r="5.75"/>
<circle cx="1110.7" cy="596.1" r="5.75"/>
<circle cx="1112.4" cy="596.1" r="5.75"/>
<circle cx="1114.2" cy="596.1" r="5.75"/>
<circle cx="1115.9" cy="596.1" r="5.75"/>
<circle cx="1117.7" cy="596.1" r="5.75"/>
<circle cx="1119.4" cy="596.1" r="5.75"/>
<circle cx="1121.2" cy="596.1" r="5.75"/>
<circle cx="1122.9" cy="596.1" r="5.75"/>
<circle cx="1124.7" cy="596.1" r="5.75"/>
<circle cx="1126.4" cy="596.1" r="5.75"/>
<circle cx="1128.2" cy="596.1" r="5.75"/>
<circle cx="1130" cy="596.1" r="5.75"/>
<circle cx="1131.7" cy="596.1" r="5.75"/>
<circle cx="1133.5" cy="596.1" r="5.75"/>
<circle cx="1135.2" cy="596.1" r="5.75"/>
<circle cx="1137" cy="596.1" r="5.75"/>
<circle cx="1138.7" cy="596.1" r="5.75"/>
<circle cx="1140.5" cy="596.1" r="5.75"/>
<circle cx="1142.2" cy="596.1" r="5.75"/>
<circle cx="1144" cy="596.2" r="5.75"/>
<circle cx="1145.7" cy="596.2" r="5.75"/>
<circle cx="1147.5" cy="596.2" r="5.75"/>
<circle cx="1149.2" cy="596.2" r="5.75"/>
<circle cx="1151" cy="596.2" r="5.75"/>
<circle cx="1152.7" cy="596.2" r="5.75"/>
<circle cx="1154.5" cy="596.2" r="5.75"/>
<circle cx="1156.2" cy="596.2" r="5.75"/>
<circle cx="1158" cy="596.2" r="5.75"/>
<circle cx="1159.8" cy="596.3" r="5.75"/>
<circle cx="1161.5" cy="596.3" r="5.75"/>
<circle cx="1163.3" cy="596.3" r="5.75"/>
<circle cx="1165" cy="596.3" r="5.75"/>
<circle cx="1166.8" cy="596.3" r="5.75"/>
<circle cx="1168.5" cy="596.3" r="5.75"/>
<circle cx="1170.3" cy="596.5" r="5.75"/>
<circle cx="1172" cy="596.8" r="5.75"/>
<circle cx="1173.8" cy="597.3" r="5.75"/>
<circle cx="1175.5" cy="597.8" r="5.75"/>
<circle cx="1177.3" cy="598.1" r="5.75"/>
<circle cx="1179" cy="598.3" r="5.75"/>
<circle cx="1180.8" cy="598.3" r="5.75"/>
<circle cx="1182.5" cy="598.3" r="5.75"/>
<circle cx="1184.3" cy="598.3" r="5.75"/>
<circle cx="1186" cy="598.3" r="5.75"/>
<circle cx="1187.8" cy="598.3" r="5.75"/>
<circle cx="1189.5" cy="598.3" r="5.75"/>
<circle cx="1191.3" cy="598.3" r="5.75"/>
<circle cx="1193.1" cy="598.3" r="5.75"/>
<circle cx="1194.8" cy="598.2" r="5.75"/>
<circle cx="1196.6" cy="598.1" r="5.75"/>
<circle cx="1198.3" cy="597.8" r="5.75"/>
<circle cx="1200.1" cy="597.4" r="5.75"/>
<circle cx="1201.8" cy="597" r="5.75"/>
<circle cx="1203.6" cy="596.6" r="5.75"/>
<circle cx="1205.3" cy="591.8" r="5.75"/>
<circle cx="1207.1" cy="579.6" r="5.75"/>
<circle cx="1208.8" cy="567.9" r="5.75"/>
<circle cx="1210.9" cy="553.1" r="5.75"/>
<circle cx="1212.6" cy="551.4" r="5.75"/>
<circle cx="1214.4" cy="549.8" r="5.75"/>
<circle cx="1216.1" cy="548" r="5.75"/>
<circle cx="1217.9" cy="546.2" r="5.75"/>
<circle cx="1219.6" cy="544.4" r="5.75"/>
<circle cx="1221.4" cy="542.4" r="5.75"/>
<circle cx="1223.1" cy="540.5" r="5.75"/>
<circle cx="1224.9" cy="538.4" r="5.75"/>
<circle cx="1226.6" cy="536.2" r="5.75"/>
<circle cx="1228.4" cy="534" r="5.75"/>
<circle cx="1230.1" cy="531.7" r="5.75"/>
<circle cx="1231.9" cy="529.5" r="5.75"/>
<circle cx="1233.6" cy="527.4" r="5.75"/>
<circle cx="1235.4" cy="525.4" r="5.75"/>
<circle cx="1237.1" cy="523.4" r="5.75"/>
<circle cx="1238.9" cy="521.5" r="5.75"/>
<circle cx="1240.7" cy="519.6" r="5.75"/>
<circle cx="1242.4" cy="517.5" r="5.75"/>
<circle cx="1244.2" cy="515.2" r="5.75"/>
<circle cx="1245.9" cy="512.9" r="5.75"/>
<circle cx="1247.7" cy="510.4" r="5.75"/>
<circle cx="1249.4" cy="507.8" r="5.75"/>
<circle cx="1251.2" cy="505.2" r="5.75"/>
<circle cx="1252.9" cy="502.4" r="5.75"/>
<circle cx="1254.7" cy="499.6" r="5.75"/>
<circle cx="1256.4" cy="496.9" r="5.75"/>
<circle cx="1258.2" cy="494.2" r="5.75"/>
<circle cx="1259.9" cy="491.4" r="5.75"/>
<circle cx="1261.7" cy="488.4" r="5.75"/>
<circle cx="1263.4" cy="485.1" r="5.75"/>
<circle cx="1265.2" cy="481.3" r="5.75"/>
<circle cx="1266.9" cy="476.7" r="5.75"/>
<circle cx="1268.7" cy="470.9" r="5.75"/>
<circle cx="1270.5" cy="464.3" r="5.75"/>
<circle cx="1272.2" cy="457.1" r="5.75"/>
<circle cx="1274" cy="449.8" r="5.75"/>
<circle cx="1275.7" cy="442.7" r="5.75"/>
<circle cx="1277.5" cy="435.7" r="5.75"/>
<circle cx="1279.2" cy="428.5" r="5.75"/>
<circle cx="1281" cy="421" r="5.75"/>
<circle cx="1282.7" cy="412.9" r="5.75"/>
<circle cx="1284.5" cy="403.9" r="5.75"/>
<circle cx="1286.2" cy="393.5" r="5.75"/>
<circle cx="1288" cy="382.4" r="5.75"/>
<circle cx="1289.7" cy="371.2" r="5.75"/>
<circle cx="1291.5" cy="359.8" r="5.75"/>
<circle cx="1293.2" cy="348.5" r="5.75"/>
<circle cx="1295" cy="338.7" r="5.75"/>
<circle cx="1296.7" cy="330.4" r="5.75"/>
<circle cx="1298.5" cy="322.4" r="5.75"/>
<circle cx="1300.3" cy="313.2" r="5.75"/>
<circle cx="1302" cy="300.9" r="5.75"/>
<circle cx="1303.8" cy="284.5" r="5.75"/>
<circle cx="1305.5" cy="271.2" r="5.75"/>
<circle cx="1307.3" cy="259.1" r="5.75"/>
<circle cx="1309" cy="246.7" r="5.75"/>
<circle cx="1310.8" cy="228.5" r="5.75"/>
<circle cx="1312.5" cy="216.1" r="5.75"/>
<circle cx="1314.3" cy="205.9" r="5.75"/>
<circle cx="1316" cy="186.5" r="5.75"/>
<circle cx="1317.8" cy="345.6" r="5.75"/>
<circle cx="1319.5" cy="466.7" r="5.75"/>
<circle cx="1321.3" cy="513.6" r="5.75"/>
<circle cx="1323" cy="537.2" r="5.75"/>
<circle cx="1324.8" cy="553.7" r="5.75"/>
<circle cx="1326.5" cy="563.7" r="5.75"/>
<circle cx="1328.3" cy="572.4" r="5.75"/>
<circle cx="1330" cy="575.7" r="5.75"/>
<circle cx="1331.8" cy="578.2" r="5.75"/>
<circle cx="1333.6" cy="580.6" r="5.75"/>
<circle cx="1335.3" cy="583.1" r="5.75"/>
<circle cx="1337.1" cy="585.1" r="5.75"/>
<circle cx="1338.8" cy="586.3" r="5.75"/>
<circle cx="1340.6" cy="587.2" r="5.75"/>
<circle cx="1342.3" cy="587.9" r="5.75"/>
<circle cx="1344.1" cy="588.5" r="5.75"/>
<circle cx="1345.8" cy="589" r="5.75"/>
<circle cx="1347.6" cy="589.4" r="5.75"/>
<circle cx="1349.3" cy="589.7" r="5.75"/>
<circle cx="1351.1" cy="590" r="5.75"/>
<circle cx="1352.8" cy="590.3" r="5.75"/>
<circle cx="1354.6" cy="590.6" r="5.75"/>
<circle cx="1356.3" cy="590.8" r="5.75"/>
<circle cx="1358.1" cy="591.1" r="5.75"/>
<circle cx="1359.8" cy="591.3" r="5.75"/>
<circle cx="1361.6" cy="591.5" r="5.75"/>
<circle cx="1363.4" cy="591.7" r="5.75"/>
<circle cx="1365.1" cy="591.9" r="5.75"/>
<circle cx="1366.9" cy="592.1" r="5.75"/>
<circle cx="1368.6" cy="592.3" r="5.75"/>
<circle cx="1370.4" cy="592.4" r="5.75"/>
<circle cx="1372.1" cy="592.6" r="5.75"/>
<circle cx="1373.9" cy="592.7" r="5.75"/>
<circle cx="1375.6" cy="592.8" r="5.75"/>
<circle cx="1377.4" cy="593" r="5.75"/>
<circle cx="1379.1" cy="593.1" r="5.75"/>
<circle cx="1380.9" cy="593.2" r="5.75"/>
<circle cx="1382.6" cy="593.3" r="5.75"/>
<circle cx="1384.4" cy="593.4" r="5.75"/>
<circle cx="1386.1" cy="593.5" r="5.75"/>
<circle cx="1387.9" cy="593.6" r="5.75"/>
<circle cx="1389.6" cy="593.7" r="5.75"/>
<circle cx="1391.4" cy="593.8" r="5.75"/>
<circle cx="1393.2" cy="593.9" r="5.75"/>
<circle cx="1394.9" cy="594" r="5.75"/>
<circle cx="1396.7" cy="594.1" r="5.75"/>
<circle cx="1398.4" cy="594.1" r="5.75"/>
<circle cx="1400.2" cy="594.2" r="5.75"/>
<circle cx="1401.9" cy="594.3" r="5.75"/>
<circle cx="1403.7" cy="594.4" r="5.75"/>
<circle cx="1405.4" cy="594.5" r="5.75"/>
<circle cx="1407.2" cy="594.5" r="5.75"/>
<circle cx="1408.9" cy="594.6" r="5.75"/>
<circle cx="1410.7" cy="594.7" r="5.75"/>
<circle cx="1412.4" cy="594.7" r="5.75"/>
<circle cx="1414.2" cy="594.8" r="5.75"/>
<circle cx="1415.9" cy="594.8" r="5.75"/>
<circle cx="1417.7" cy="594.8" r="5.75"/>
<circle cx="1419.4" cy="594.9" r="5.75"/>
<circle cx="1421.2" cy="594.9" r="5.75"/>
<circle cx="1423" cy="594.9" r="5.75"/>
<circle cx="1424.7" cy="594.9" r="5.75"/>
<circle cx="1426.5" cy="594.9" r="5.75"/>
<circle cx="1428.2" cy="582.7" r="5.75"/>
<circle cx="1430" cy="572.2" r="5.75"/>
<circle cx="1431.7" cy="563.4" r="5.75"/>
<circle cx="1432.9" cy="551.6" r="5.75"/>
<circle cx="1434.7" cy="549.7" r="5.75"/>
<circle cx="1436.4" cy="547.8" r="5.75"/>
<circle cx="1438.2" cy="545.8" r="5.75"/>
<circle cx="1439.9" cy="543.8" r="5.75"/>
<circle cx="1441.7" cy="541.7" r="5.75"/>
<circle cx="1443.4" cy="539.6" r="5.75"/>
<circle cx="1445.2" cy="537.5" r="5.75"/>
<circle cx="1447" cy="535.3" r="5.75"/>
<circle cx="1448.7" cy="533.1" r="5.75"/>
<circle cx="1450.5" cy="530.8" r="5.75"/>
<circle cx="1452.2" cy="528.6" r="5.75"/>
<circle cx="1454" cy="526.3" r="5.75"/>
<circle cx="1455.7" cy="524.1" r="5.75"/>
<circle cx="1457.5" cy="521.9" r="5.75"/>
<circle cx="1459.2" cy="519.5" r="5.75"/>
<circle cx="1461" cy="516.9" r="5.75"/>
<circle cx="1462.7" cy="514" r="5.75"/>
<circle cx="1464.5" cy="510.7" r="5.75"/>
<circle cx="1466.2" cy="506.8" r="5.75"/>
<circle cx="1468" cy="502.4" r="5.75"/>
<circle cx="1469.7" cy="497.6" r="5.75"/>
<circle cx="1471.5" cy="492.5" r="5.75"/>
<circle cx="1473.2" cy="487.3" r="5.75"/>
<circle cx="1475" cy="482" r="5.75"/>
<circle cx="1476.8" cy="476.8" r="5.75"/>
<circle cx="1478.5" cy="471.6" r="5.75"/>
<circle cx="1480.3" cy="466.4" r="5.75"/>
<circle cx="1482" cy="461" r="5.75"/>
<circle cx="1483.8" cy="455.6" r="5.75"/>
<circle cx="1485.5" cy="450" r="5.75"/>
<circle cx="1487.3" cy="444.3" r="5.75"/>
<circle cx="1489" cy="438.6" r="5.75"/>
<circle cx="1490.8" cy="432.8" r="5.75"/>
<circle cx="1492.5" cy="426.9" r="5.75"/>
<circle cx="1494.3" cy="421" r="5.75"/>
<circle cx="1496" cy="414.9" r="5.75"/>
<circle cx="1497.8" cy="408.7" r="5.75"/>
<circle cx="1499.5" cy="402.2" r="5.75"/>
<circle cx="1501.3" cy="395.5" r="5.75"/>
<circle cx="1503" cy="388.3" r="5.75"/>
<circle cx="1504.8" cy="380.8" r="5.75"/>
<circle cx="1506.5" cy="373" r="5.75"/>
<circle cx="1508.3" cy="365.1" r="5.75"/>
<circle cx="1510.1" cy="357" r="5.75"/>
<circle cx="1511.8" cy="348.6" r="5.75"/>
<circle cx="1513.6" cy="339.9" r="5.75"/>
<circle cx="1515.3" cy="331.1" r="5.75"/>
<circle cx="1517.1" cy="322.3" r="5.75"/>
<circle cx="1518.8" cy="313.7" r="5.75"/>
<circle cx="1520.6" cy="305.7" r="5.75"/>
<circle cx="1522.3" cy="297.5" r="5.75"/>
<circle cx="1524.1" cy="288.6" r="5.75"/>
<circle cx="1525.8" cy="278.2" r="5.75"/>
<circle cx="1527.6" cy="265.4" r="5.75"/>
<circle cx="1529.3" cy="252.2" r="5.75"/>
<circle cx="1531.1" cy="241.6" r="5.75"/>
<circle cx="1532.8" cy="233" r="5.75"/>
<circle cx="1534.6" cy="224.3" r="5.75"/>
<circle cx="1536.3" cy="215.2" r="5.75"/>
<circle cx="1538.1" cy="200.9" r="5.75"/>
<circle cx="1539.9" cy="187.9" r="5.75"/>
<circle cx="1541.6" cy="204.1" r="5.75"/>
<circle cx="1543.4" cy="390" r="5.75"/>
<circle cx="1545.1" cy="472.4" r="5.75"/>
<circle cx="1546.9" cy="508.5" r="5.75"/>
<circle cx="1548.6" cy="530.7" r="5.75"/>
<circle cx="1550.4" cy="549.2" r="5.75"/>
<circle cx="1552.1" cy="563.9" r="5.75"/>
<circle cx="1553.9" cy="569.8" r="5.75"/>
<circle cx="1555.6" cy="574.2" r="5.75"/>
<circle cx="1557.4" cy="577.3" r="5.75"/>
<circle cx="1559.1" cy="579.9" r="5.75"/>
<circle cx="1560.9" cy="582.1" r="5.75"/>
<circle cx="1562.6" cy="583.9" r="5.75"/>
<circle cx="1564.4" cy="585" r="5.75"/>
<circle cx="1566.1" cy="585.7" r="5.75"/>
<circle cx="1567.9" cy="586.2" r="5.75"/>
<circle cx="1569.7" cy="586.7" r="5.75"/>
<circle cx="1571.4" cy="587.2" r="5.75"/>
<circle cx="1573.2" cy="587.5" r="5.75"/>
<circle cx="1574.9" cy="587.9" r="5.75"/>
<circle cx="1576.7" cy="588.2" r="5.75"/>
<circle cx="1578.4" cy="588.4" r="5.75"/>
<circle cx="1580.2" cy="588.6" r="5.75"/>
<circle cx="1581.9" cy="588.8" r="5.75"/>
<circle cx="1583.7" cy="588.9" r="5.75"/>
<circle cx="1585.4" cy="589.1" r="5.75"/>
<circle cx="1587.2" cy="589.2" r="5.75"/>
<circle cx="1588.9" cy="589.3" r="5.75"/>
<circle cx="1590.7" cy="589.5" r="5.75"/>
<circle cx="1592.4" cy="589.6" r="5.75"/>
<circle cx="1594.2" cy="589.7" r="5.75"/>
<circle cx="1595.9" cy="589.8" r="5.75"/>
<circle cx="1597.7" cy="589.9" r="5.75"/>
<circle cx="1599.5" cy="590.1" r="5.75"/>
<circle cx="1601.2" cy="590.2" r="5.75"/>
<circle cx="1603" cy="590.3" r="5.75"/>
<circle cx="1604.7" cy="590.4" r="5.75"/>
<circle cx="1606.5" cy="590.5" r="5.75"/>
<circle cx="1608.2" cy="590.6" r="5.75"/>
<circle cx="1610" cy="590.7" r="5.75"/>
<circle cx="1611.7" cy="590.7" r="5.75"/>
<circle cx="1613.5" cy="590.8" r="5.75"/>
<circle cx="1615.2" cy="590.9" r="5.75"/>
<circle cx="1617" cy="591" r="5.75"/>
<circle cx="1618.7" cy="591.1" r="5.75"/>
<circle cx="1620.5" cy="591.1" r="5.75"/>
<circle cx="1622.2" cy="591.2" r="5.75"/>
<circle cx="1624" cy="591.3" r="5.75"/>
<circle cx="1625.7" cy="591.3" r="5.75"/>
<circle cx="1627.5" cy="591.4" r="5.75"/>
<circle cx="1629.3" cy="591.4" r="5.75"/>
<circle cx="1631" cy="591.5" r="5.75"/>
<circle cx="1632.8" cy="591.5" r="5.75"/>
<circle cx="1634.5" cy="591.6" r="5.75"/>
<circle cx="1636.3" cy="591.6" r="5.75"/>
<circle cx="1638" cy="591.7" r="5.75"/>
<circle cx="1639.8" cy="591.7" r="5.75"/>
<circle cx="1641.5" cy="591.7" r="5.75"/>
<circle cx="1643.3" cy="591.7" r="5.75"/>
<circle cx="1645" cy="591.8" r="5.75"/>
<circle cx="1646.8" cy="591.8" r="5.75"/>
<circle cx="1648.5" cy="591.8" r="5.75"/>
<circle cx="1650.3" cy="591.8" r="5.75"/>
<circle cx="1652" cy="591.8" r="5.75"/>
<circle cx="1653.8" cy="592.6" r="5.75"/>
<circle cx="1655.5" cy="581" r="5.75"/>
<circle cx="1657.3" cy="566.5" r="5.75"/>
<circle cx="1659" cy="549.4" r="5.75"/>
<circle cx="1660.3" cy="543.5" r="5.75"/>
<circle cx="1662" cy="540.8" r="5.75"/>
<circle cx="1663.8" cy="538.2" r="5.75"/>
<circle cx="1665.5" cy="535.6" r="5.75"/>
<circle cx="1667.3" cy="532.9" r="5.75"/>
<circle cx="1669" cy="530.2" r="5.75"/>
<circle cx="1670.8" cy="527.5" r="5.75"/>
<circle cx="1672.5" cy="524.7" r="5.75"/>
<circle cx="1674.3" cy="521.8" r="5.75"/>
<circle cx="1676" cy="518.9" r="5.75"/>
<circle cx="1677.8" cy="515.8" r="5.75"/>
<circle cx="1679.5" cy="512.5" r="5.75"/>
<circle cx="1681.3" cy="509" r="5.75"/>
<circle cx="1683.1" cy="505.3" r="5.75"/>
<circle cx="1684.8" cy="501.4" r="5.75"/>
<circle cx="1686.6" cy="497.5" r="5.75"/>
<circle cx="1688.3" cy="493.7" r="5.75"/>
<circle cx="1690.1" cy="489.9" r="5.75"/>
<circle cx="1691.8" cy="486.1" r="5.75"/>
<circle cx="1693.6" cy="482.2" r="5.75"/>
<circle cx="1695.3" cy="478.1" r="5.75"/>
<circle cx="1697.1" cy="473.7" r="5.75"/>
<circle cx="1698.8" cy="468.9" r="5.75"/>
<circle cx="1700.6" cy="463.8" r="5.75"/>
<circle cx="1702.3" cy="458.4" r="5.75"/>
<circle cx="1704.1" cy="452.7" r="5.75"/>
<circle cx="1705.8" cy="446.9" r="5.75"/>
<circle cx="1707.6" cy="441" r="5.75"/>
<circle cx="1709.3" cy="435" r="5.75"/>
<circle cx="1711.1" cy="428.9" r="5.75"/>
<circle cx="1712.8" cy="422.7" r="5.75"/>
<circle cx="1714.6" cy="416.3" r="5.75"/>
<circle cx="1716.4" cy="409.6" r="5.75"/>
<circle cx="1718.1" cy="402.4" r="5.75"/>
<circle cx="1719.9" cy="394.7" r="5.75"/>
<circle cx="1721.6" cy="385.9" r="5.75"/>
<circle cx="1723.4" cy="376.2" r="5.75"/>
<circle cx="1725.1" cy="366.4" r="5.75"/>
<circle cx="1726.9" cy="356.9" r="5.75"/>
<circle cx="1728.6" cy="347.9" r="5.75"/>
<circle cx="1730.4" cy="339.2" r="5.75"/>
<circle cx="1732.1" cy="330.4" r="5.75"/>
<circle cx="1733.9" cy="321.1" r="5.75"/>
<circle cx="1735.6" cy="311.3" r="5.75"/>
<circle cx="1737.4" cy="300.8" r="5.75"/>
<circle cx="1739.1" cy="290" r="5.75"/>
<circle cx="1740.9" cy="279.1" r="5.75"/>
<circle cx="1742.6" cy="267.8" r="5.75"/>
<circle cx="1744.4" cy="255.7" r="5.75"/>
<circle cx="1746.2" cy="245.1" r="5.75"/>
<circle cx="1747.9" cy="235.2" r="5.75"/>
<circle cx="1749.7" cy="223.7" r="5.75"/>
<circle cx="1751.4" cy="207.7" r="5.75"/>
<circle cx="1753.2" cy="187.9" r="5.75"/>
<circle cx="1754.9" cy="266.9" r="5.75"/>
<circle cx="1756.7" cy="435.2" r="5.75"/>
<circle cx="1758.4" cy="498.8" r="5.75"/>
<circle cx="1760.2" cy="526.4" r="5.75"/>
<circle cx="1761.9" cy="543.5" r="5.75"/>
<circle cx="1763.7" cy="558.6" r="5.75"/>
<circle cx="1765.4" cy="564.7" r="5.75"/>
<circle cx="1767.2" cy="569.1" r="5.75"/>
<circle cx="1768.9" cy="572.5" r="5.75"/>
<circle cx="1770.7" cy="575.3" r="5.75"/>
<circle cx="1772.4" cy="577.6" r="5.75"/>
<circle cx="1774.2" cy="579.2" r="5.75"/>
<circle cx="1776" cy="580.4" r="5.75"/>
<circle cx="1777.7" cy="581.4" r="5.75"/>
<circle cx="1779.5" cy="582.3" r="5.75"/>
<circle cx="1781.2" cy="583.1" r="5.75"/>
<circle cx="1783" cy="583.7" r="5.75"/>
<circle cx="1784.7" cy="584.3" r="5.75"/>
<circle cx="1786.5" cy="584.8" r="5.75"/>
<circle cx="1788.2" cy="585.3" r="5.75"/>
<circle cx="1790" cy="585.7" r="5.75"/>
<circle cx="1791.7" cy="586.1" r="5.75"/>
<circle cx="1793.5" cy="586.5" r="5.75"/>
<circle cx="1795.2" cy="586.8" r="5.75"/>
<circle cx="1797" cy="587.2" r="5.75"/>
<circle cx="1798.7" cy="587.5" r="5.75"/>
<circle cx="1800.5" cy="587.7" r="5.75"/>
<circle cx="1802.2" cy="588" r="5.75"/>
<circle cx="1804" cy="588.3" r="5.75"/>
<circle cx="1805.8" cy="588.5" r="5.75"/>
<circle cx="1807.5" cy="588.7" r="5.75"/>
<circle cx="1809.3" cy="589" r="5.75"/>
<circle cx="1811" cy="589.2" r="5.75"/>
<circle cx="1812.8" cy="589.4" r="5.75"/>
<circle cx="1814.5" cy="589.6" r="5.75"/>
<circle cx="1816.3" cy="589.8" r="5.75"/>
<circle cx="1818" cy="590" r="5.75"/>
<circle cx="1819.8" cy="590.2" r="5.75"/>
<circle cx="1821.5" cy="590.4" r="5.75"/>
<circle cx="1823.3" cy="590.6" r="5.75"/>
<circle cx="1825" cy="590.8" r="5.75"/>
<circle cx="1826.8" cy="590.9" r="5.75"/>
<circle cx="1828.5" cy="591.1" r="5.75"/>
<circle cx="1830.3" cy="591.2" r="5.75"/>
<circle cx="1832" cy="591.4" r="5.75"/>
<circle cx="1833.8" cy="591.5" r="5.75"/>
<circle cx="1835.6" cy="591.6" r="5.75"/>
<circle cx="1837.3" cy="591.7" r="5.75"/>
<circle cx="1839.1" cy="591.8" r="5.75"/>
</g>
<path d="M144.5 1427.8 146.2 1427.8 147.9 1427.8 149.7 1427.8 151.4 1427.8 153.1 1427.8 154.8 1427.8 156.5 1427.8 158.3 1427.8 160 1427.8 161.7 1427.8 163.4 1427.8 165.2 1427.8 166.9 1427.8 168.6 1427.8 170.3 1427.8 172 1427.8 173.8 1427.8 175.5 1427.8 177.2 1427.8 178.9 1427.8 180.6 1427.8 182.4 1427.8 184.1 1427.8 185.8 1427.8 187.5 1427.8 189.3 1427.8 191 1427.8 192.7 1427.8 194.4 1427.8 196.1 1427.8 197.9 1427.8 199.6 1427.8 201.3 1427.8 203 1427.8 204.7 1427.8 206.5 1427.8 208.2 1427.8 209.9 1427.8 211.6 1427.8 213.4 1427.8 215.1 1427.8 216.8 1427.8 218.5 1427.8 220.2 1427.8 222 1427.8 223.7 1427.8 225.4 1427.8 227.1 1427.8 228.8 1427.8 230.6 1427.8 232.3 1427.8 234 1427.8 235.7 1427.8 237.5 1427.8 239.2 1427.8 240.9 1427.8 242.6 1427.8 244.3 1427.8 246.1 1427.8 247.8 1427.8 249.5 1427.8 251.2 1427.8 252.9 1427.8 254.7 1424.9 256.4 1419.2 258.5 1413.9 260.2 1413.3 261.9 1412.6 263.7 1411.7 265.4 1410.6 267.1 1409.3 268.8 1407.8 270.6 1406.2 272.3 1404.7 274 1403 275.7 1401.4 277.4 1399.6 279.2 1397.7 280.9 1395.6 282.6 1393.4 284.3 1391 286 1388.4 287.8 1385.6 289.5 1382.4 291.2 1378.8 292.9 1374.8 294.7 1370.5 296.4 1366.2 298.1 1362 299.8 1357.7 301.5 1353.3 303.3 1348.7 305 1343.8 306.7 1338.4 308.4 1332.5 310.1 1326.1 311.9 1319.5 313.6 1312.6 315.3 1305.7 317 1298.8 318.8 1292.1 320.5 1285.2 322.2 1278.2 323.9 1270.8 325.6 1262.8 327.4 1254 329.1 1243.8 330.8 1232.9 332.5 1222 334.2 1211.7 336 1201.8 337.7 1192 339.4 1182 341.1 1171.6 342.9 1160.9 344.6 1149.2 346.3 1135.9 348 1122.7 349.7 1110.9 351.5 1100.2 353.2 1083.9 354.9 1064.9 356.6 1039.8 358.3 1125.6 360.1 1247 361.8 1310.4 363.5 1338.8 365.2 1355.6 367 1369.5 368.7 1389.5 370.4 1396.8 372.1 1401.9 373.8 1405.2 375.6 1407.8 377.3 1409.9 379 1411.9 380.7 1413.7 382.4 1415.2 384.2 1416.4 385.9 1417.3 387.6 1418.1 389.3 1418.9 391 1419.5 392.8 1420 394.5 1420.3 396.2 1420.6 397.9 1420.8 399.7 1421.1 401.4 1421.3 403.1 1421.6 404.8 1421.8 406.5 1422 408.3 1422.2 410 1422.4 411.7 1422.6 413.4 1422.7 415.1 1422.9 416.9 1423.1 418.6 1423.2 420.3 1423.3 422 1423.5 423.8 1423.6 425.5 1423.7 427.2 1423.8 428.9 1423.9 430.6 1424 432.4 1424.1 434.1 1424.2 435.8 1424.3 437.5 1424.4 439.2 1424.4 441 1424.5 442.7 1424.5 444.4 1424.6 446.1 1424.6 447.9 1424.6 449.6 1424.7 451.3 1424.7 453 1424.7 454.7 1424.8 456.5 1424.8 458.2 1424.8 459.9 1424.8 461.6 1424.9 463.3 1424.9 465.1 1424.9 466.8 1424.9 468.5 1424.9 470.2 1424.9 472 1423.8 473.7 1416.4 474.3 1413.7 476.1 1411.7 477.8 1409.6 479.5 1407.5 481.2 1405.4 482.9 1403.3 484.7 1401.1 486.4 1399 488.1 1396.9 489.8 1394.8 491.5 1392.7 493.3 1390.6 495 1388.3 496.7 1386 498.4 1383.5 500.2 1380.8 501.9 1377.9 503.6 1374.8 505.3 1371.6 507 1368.3 508.8 1365 510.5 1361.6 512.2 1358.2 513.9 1354.8 515.6 1351 517.4 1347 519.1 1342.6 520.8 1337.5 522.5 1331.6 524.3 1325.2 526 1318.3 527.7 1311.3 529.4 1304.2 531.1 1297.2 532.9 1290.2 534.6 1283 536.3 1275.6 538 1267.8 539.7 1259.6 541.5 1250.6 543.2 1241 544.9 1230.9 546.6 1220.9 548.4 1211.3 550.1 1201.9 551.8 1192.4 553.5 1182.7 555.2 1172.4 557 1161.7 558.7 1150.4 560.4 1138.6 562.1 1125.8 563.8 1108.8 565.6 1094.1 567.3 1082.2 569 1070.9 570.7 1054.4 572.5 1036.6 574.2 1121.3 575.9 1278 577.6 1327.1 579.3 1351.3 581.1 1365.2 582.8 1385.1 584.5 1394.1 586.2 1400.7 587.9 1405 589.7 1408.1 591.4 1410.4 593.1 1412.4 594.8 1414.2 596.6 1415.8 598.3 1417 600 1417.8 601.7 1418.4 603.4 1418.9 605.2 1419.3 606.9 1419.8 608.6 1420.1 610.3 1420.5 612 1420.8 613.8 1421 615.5 1421.3 617.2 1421.5 618.9 1421.6 620.6 1421.7 622.4 1421.9 624.1 1422 625.8 1422.1 627.5 1422.2 629.3 1422.3 631 1422.4 632.7 1422.5 634.4 1422.6 636.1 1422.7 637.9 1422.8 639.6 1422.8 641.3 1422.9 643 1423 644.7 1423.1 646.5 1423.1 648.2 1423.2 649.9 1423.3 651.6 1423.3 653.4 1423.4 655.1 1423.4 656.8 1423.5 658.5 1423.5 660.2 1423.6 662 1423.6 663.7 1423.6 665.4 1423.7 667.1 1423.7 668.8 1423.7 670.6 1423.7 672.3 1423.8 674 1423.8 675.7 1423.8 677.5 1423.8 679.2 1423.5 680.9 1415 682.9 1410.1 684.6 1408.3 686.3 1406.4 688 1404.5 689.8 1402.6 691.5 1400.7 693.2 1398.8 694.9 1396.9 696.7 1395.1 698.4 1393.3 700.1 1391.5 701.8 1389.6 703.5 1387.7 705.3 1385.6 707 1383.3 708.7 1380.9 710.4 1378.2 712.1 1375.3 713.9 1372.3 715.6 1369.3 717.3 1366.2 719 1363.1 720.8 1360.1 722.5 1357 724.2 1353.8 725.9 1350.4 727.6 1346.9 729.4 1343.1 731.1 1339 732.8 1334.5 734.5 1329.6 736.2 1324.5 738 1319.2 739.7 1313.8 741.4 1308.2 743.1 1302.6 744.9 1297 746.6 1291.3 748.3 1285.6 750 1279.6 751.7 1273.4 753.5 1266.9 755.2 1260 756.9 1252.5 758.6 1244.1 760.3 1235.2 762.1 1226.3 763.8 1217.8 765.5 1209.7 767.2 1201.9 768.9 1194.2 770.7 1186.4 772.4 1178.2 774.1 1169.6 775.8 1160.7 777.6 1151.4 779.3 1142 781 1132.3 782.7 1121.6 784.4 1109.9 786.2 1100.2 787.9 1089.7 789.6 1079.9 791.3 1071.2 793 1061.2 794.8 1044.9 796.5 1031.2 798.2 1100.3 799.9 1272 801.7 1327.1 803.4 1352.1 805.1 1366.6 806.8 1387.9 808.5 1395.3 810.3 1400.4 812 1404 813.7 1406.8 815.4 1408.9 817.1 1410.5 818.9 1412 820.6 1413.3 822.3 1414.3 824 1415.2 825.8 1415.7 827.5 1416.2 829.2 1416.6 830.9 1416.9 832.6 1417.2 834.4 1417.5 836.1 1417.8 837.8 1418 839.5 1418.2 841.2 1418.5 843 1418.8 844.7 1419 846.4 1419.3 848.1 1419.6 849.9 1419.9 851.6 1420.1 853.3 1420.4 855 1420.7 856.7 1420.9 858.5 1421.2 860.2 1421.5 861.9 1421.7 863.6 1422 865.3 1422.2 867.1 1422.5 868.8 1422.7 870.5 1422.9 872.2 1423.2 874 1423.4 875.7 1423.6 877.4 1423.9 879.1 1424.1 880.8 1424.3 882.6 1424.5 884.3 1424.7 886 1424.9" stroke="#ff0000" stroke-width="3.6" fill="none" stroke-linejoin="round"/>
<g fill="#fff" stroke="#2eaa68" stroke-width="2.8">
<circle cx="144.5" cy="1427.8" r="5.75"/>
<circle cx="146.2" cy="1427.8" r="5.75"/>
<circle cx="147.9" cy="1427.8" r="5.75"/>
<circle cx="149.7" cy="1427.8" r="5.75"/>
<circle cx="151.4" cy="1427.8" r="5.75"/>
<circle cx="153.1" cy="1427.8" r="5.75"/>
<circle cx="154.8" cy="1427.8" r="5.75"/>
<circle cx="156.5" cy="1427.8" r="5.75"/>
<circle cx="158.3" cy="1427.8" r="5.75"/>
<circle cx="160" cy="1427.8" r="5.75"/>
<circle cx="161.7" cy="1427.8" r="5.75"/>
<circle cx="163.4" cy="1427.8" r="5.75"/>
<circle cx="165.2" cy="1427.8" r="5.75"/>
<circle cx="166.9" cy="1427.8" r="5.75"/>
<circle cx="168.6" cy="1427.8" r="5.75"/>
<circle cx="170.3" cy="1427.8" r="5.75"/>
<circle cx="172" cy="1427.8" r="5.75"/>
<circle cx="173.8" cy="1427.8" r="5.75"/>
<circle cx="175.5" cy="1427.8" r="5.75"/>
<circle cx="177.2" cy="1427.8" r="5.75"/>
<circle cx="178.9" cy="1427.8" r="5.75"/>
<circle cx="180.6" cy="1427.8" r="5.75"/>
<circle cx="182.4" cy="1427.8" r="5.75"/>
<circle cx="184.1" cy="1427.8" r="5.75"/>
<circle cx="185.8" cy="1427.8" r="5.75"/>
<circle cx="187.5" cy="1427.8" r="5.75"/>
<circle cx="189.3" cy="1427.8" r="5.75"/>
<circle cx="191" cy="1427.8" r="5.75"/>
<circle cx="192.7" cy="1427.8" r="5.75"/>
<circle cx="194.4" cy="1427.8" r="5.75"/>
<circle cx="196.1" cy="1427.8" r="5.75"/>
<circle cx="197.9" cy="1427.8" r="5.75"/>
<circle cx="199.6" cy="1427.8" r="5.75"/>
<circle cx="201.3" cy="1427.8" r="5.75"/>
<circle cx="203" cy="1427.8" r="5.75"/>
<circle cx="204.7" cy="1427.8" r="5.75"/>
<circle cx="206.5" cy="1427.8" r="5.75"/>
<circle cx="208.2" cy="1427.8" r="5.75"/>
<circle cx="209.9" cy="1427.8" r="5.75"/>
<circle cx="211.6" cy="1427.8" r="5.75"/>
<circle cx="213.4" cy="1427.8" r="5.75"/>
<circle cx="215.1" cy="1427.8" r="5.75"/>
<circle cx="216.8" cy="1427.8" r="5.75"/>
<circle cx="218.5" cy="1427.8" r="5.75"/>
<circle cx="220.2" cy="1427.8" r="5.75"/>
<circle cx="222" cy="1427.8" r="5.75"/>
<circle cx="223.7" cy="1427.8" r="5.75"/>
<circle cx="225.4" cy="1427.8" r="5.75"/>
<circle cx="227.1" cy="1427.8" r="5.75"/>
<circle cx="228.8" cy="1427.8" r="5.75"/>
<circle cx="230.6" cy="1427.8" r="5.75"/>
<circle cx="232.3" cy="1427.8" r="5.75"/>
<circle cx="234" cy="1427.8" r="5.75"/>
<circle cx="235.7" cy="1427.8" r="5.75"/>
<circle cx="237.5" cy="1427.8" r="5.75"/>
<circle cx="239.2" cy="1427.8" r="5.75"/>
<circle cx="240.9" cy="1427.8" r="5.75"/>
<circle cx="242.6" cy="1427.8" r="5.75"/>
<circle cx="244.3" cy="1427.8" r="5.75"/>
<circle cx="246.1" cy="1427.8" r="5.75"/>
<circle cx="247.8" cy="1427.8" r="5.75"/>
<circle cx="249.5" cy="1427.8" r="5.75"/>
<circle cx="251.2" cy="1427.8" r="5.75"/>
<circle cx="252.9" cy="1427.8" r="5.75"/>
<circle cx="254.7" cy="1424.9" r="5.75"/>
<circle cx="256.4" cy="1419.2" r="5.75"/>
<circle cx="258.5" cy="1413.9" r="5.75"/>
<circle cx="260.2" cy="1413.3" r="5.75"/>
<circle cx="261.9" cy="1412.6" r="5.75"/>
<circle cx="263.7" cy="1411.7" r="5.75"/>
<circle cx="265.4" cy="1410.6" r="5.75"/>
<circle cx="267.1" cy="1409.3" r="5.75"/>
<circle cx="268.8" cy="1407.8" r="5.75"/>
<circle cx="270.6" cy="1406.2" r="5.75"/>
<circle cx="272.3" cy="1404.7" r="5.75"/>
<circle cx="274" cy="1403" r="5.75"/>
<circle cx="275.7" cy="1401.4" r="5.75"/>
<circle cx="277.4" cy="1399.6" r="5.75"/>
<circle cx="279.2" cy="1397.7" r="5.75"/>
<circle cx="280.9" cy="1395.6" r="5.75"/>
<circle cx="282.6" cy="1393.4" r="5.75"/>
<circle cx="284.3" cy="1391" r="5.75"/>
<circle cx="286" cy="1388.4" r="5.75"/>
<circle cx="287.8" cy="1385.6" r="5.75"/>
<circle cx="289.5" cy="1382.4" r="5.75"/>
<circle cx="291.2" cy="1378.8" r="5.75"/>
<circle cx="292.9" cy="1374.8" r="5.75"/>
<circle cx="294.7" cy="1370.5" r="5.75"/>
<circle cx="296.4" cy="1366.2" r="5.75"/>
<circle cx="298.1" cy="1362" r="5.75"/>
<circle cx="299.8" cy="1357.7" r="5.75"/>
<circle cx="301.5" cy="1353.3" r="5.75"/>
<circle cx="303.3" cy="1348.7" r="5.75"/>
<circle cx="305" cy="1343.8" r="5.75"/>
<circle cx="306.7" cy="1338.4" r="5.75"/>
<circle cx="308.4" cy="1332.5" r="5.75"/>
<circle cx="310.1" cy="1326.1" r="5.75"/>
<circle cx="311.9" cy="1319.5" r="5.75"/>
<circle cx="313.6" cy="1312.6" r="5.75"/>
<circle cx="315.3" cy="1305.7" r="5.75"/>
<circle cx="317" cy="1298.8" r="5.75"/>
<circle cx="318.8" cy="1292.1" r="5.75"/>
<circle cx="320.5" cy="1285.2" r="5.75"/>
<circle cx="322.2" cy="1278.2" r="5.75"/>
<circle cx="323.9" cy="1270.8" r="5.75"/>
<circle cx="325.6" cy="1262.8" r="5.75"/>
<circle cx="327.4" cy="1254" r="5.75"/>
<circle cx="329.1" cy="1243.8" r="5.75"/>
<circle cx="330.8" cy="1232.9" r="5.75"/>
<circle cx="332.5" cy="1222" r="5.75"/>
<circle cx="334.2" cy="1211.7" r="5.75"/>
<circle cx="336" cy="1201.8" r="5.75"/>
<circle cx="337.7" cy="1192" r="5.75"/>
<circle cx="339.4" cy="1182" r="5.75"/>
<circle cx="341.1" cy="1171.6" r="5.75"/>
<circle cx="342.9" cy="1160.9" r="5.75"/>
<circle cx="344.6" cy="1149.2" r="5.75"/>
<circle cx="346.3" cy="1135.9" r="5.75"/>
<circle cx="348" cy="1122.7" r="5.75"/>
<circle cx="349.7" cy="1110.9" r="5.75"/>
<circle cx="351.5" cy="1100.2" r="5.75"/>
<circle cx="353.2" cy="1083.9" r="5.75"/>
<circle cx="354.9" cy="1064.9" r="5.75"/>
<circle cx="356.6" cy="1039.8" r="5.75"/>
<circle cx="358.3" cy="1125.6" r="5.75"/>
<circle cx="360.1" cy="1247" r="5.75"/>
<circle cx="361.8" cy="1310.4" r="5.75"/>
<circle cx="363.5" cy="1338.8" r="5.75"/>
<circle cx="365.2" cy="1355.6" r="5.75"/>
<circle cx="367" cy="1369.5" r="5.75"/>
<circle cx="368.7" cy="1389.5" r="5.75"/>
<circle cx="370.4" cy="1396.8" r="5.75"/>
<circle cx="372.1" cy="1401.9" r="5.75"/>
<circle cx="373.8" cy="1405.2" r="5.75"/>
<circle cx="375.6" cy="1407.8" r="5.75"/>
<circle cx="377.3" cy="1409.9" r="5.75"/>
<circle cx="379" cy="1411.9" r="5.75"/>
<circle cx="380.7" cy="1413.7" r="5.75"/>
<circle cx="382.4" cy="1415.2" r="5.75"/>
<circle cx="384.2" cy="1416.4" r="5.75"/>
<circle cx="385.9" cy="1417.3" r="5.75"/>
<circle cx="387.6" cy="1418.1" r="5.75"/>
<circle cx="389.3" cy="1418.9" r="5.75"/>
<circle cx="391" cy="1419.5" r="5.75"/>
<circle cx="392.8" cy="1420" r="5.75"/>
<circle cx="394.5" cy="1420.3" r="5.75"/>
<circle cx="396.2" cy="1420.6" r="5.75"/>
<circle cx="397.9" cy="1420.8" r="5.75"/>
<circle cx="399.7" cy="1421.1" r="5.75"/>
<circle cx="401.4" cy="1421.3" r="5.75"/>
<circle cx="403.1" cy="1421.6" r="5.75"/>
<circle cx="404.8" cy="1421.8" r="5.75"/>
<circle cx="406.5" cy="1422" r="5.75"/>
<circle cx="408.3" cy="1422.2" r="5.75"/>
<circle cx="410" cy="1422.4" r="5.75"/>
<circle cx="411.7" cy="1422.6" r="5.75"/>
<circle cx="413.4" cy="1422.7" r="5.75"/>
<circle cx="415.1" cy="1422.9" r="5.75"/>
<circle cx="416.9" cy="1423.1" r="5.75"/>
<circle cx="418.6" cy="1423.2" r="5.75"/>
<circle cx="420.3" cy="1423.3" r="5.75"/>
<circle cx="422" cy="1423.5" r="5.75"/>
<circle cx="423.8" cy="1423.6" r="5.75"/>
<circle cx="425.5" cy="1423.7" r="5.75"/>
<circle cx="427.2" cy="1423.8" r="5.75"/>
<circle cx="428.9" cy="1423.9" r="5.75"/>
<circle cx="430.6" cy="1424" r="5.75"/>
<circle cx="432.4" cy="1424.1" r="5.75"/>
<circle cx="434.1" cy="1424.2" r="5.75"/>
<circle cx="435.8" cy="1424.3" r="5.75"/>
<circle cx="437.5" cy="1424.4" r="5.75"/>
<circle cx="439.2" cy="1424.4" r="5.75"/>
<circle cx="441" cy="1424.5" r="5.75"/>
<circle cx="442.7" cy="1424.5" r="5.75"/>
<circle cx="444.4" cy="1424.6" r="5.75"/>
<circle cx="446.1" cy="1424.6" r="5.75"/>
<circle cx="447.9" cy="1424.6" r="5.75"/>
<circle cx="449.6" cy="1424.7" r="5.75"/>
<circle cx="451.3" cy="1424.7" r="5.75"/>
<circle cx="453" cy="1424.7" r="5.75"/>
<circle cx="454.7" cy="1424.8" r="5.75"/>
<circle cx="456.5" cy="1424.8" r="5.75"/>
<circle cx="458.2" cy="1424.8" r="5.75"/>
<circle cx="459.9" cy="1424.8" r="5.75"/>
<circle cx="461.6" cy="1424.9" r="5.75"/>
<circle cx="463.3" cy="1424.9" r="5.75"/>
<circle cx="465.1" cy="1424.9" r="5.75"/>
<circle cx="466.8" cy="1424.9" r="5.75"/>
<circle cx="468.5" cy="1424.9" r="5.75"/>
<circle cx="470.2" cy="1424.9" r="5.75"/>
<circle cx="472" cy="1423.8" r="5.75"/>
<circle cx="473.7" cy="1416.4" r="5.75"/>
<circle cx="474.3" cy="1413.7" r="5.75"/>
<circle cx="476.1" cy="1411.7" r="5.75"/>
<circle cx="477.8" cy="1409.6" r="5.75"/>
<circle cx="479.5" cy="1407.5" r="5.75"/>
<circle cx="481.2" cy="1405.4" r="5.75"/>
<circle cx="482.9" cy="1403.3" r="5.75"/>
<circle cx="484.7" cy="1401.1" r="5.75"/>
<circle cx="486.4" cy="1399" r="5.75"/>
<circle cx="488.1" cy="1396.9" r="5.75"/>
<circle cx="489.8" cy="1394.8" r="5.75"/>
<circle cx="491.5" cy="1392.7" r="5.75"/>
<circle cx="493.3" cy="1390.6" r="5.75"/>
<circle cx="495" cy="1388.3" r="5.75"/>
<circle cx="496.7" cy="1386" r="5.75"/>
<circle cx="498.4" cy="1383.5" r="5.75"/>
<circle cx="500.2" cy="1380.8" r="5.75"/>
<circle cx="501.9" cy="1377.9" r="5.75"/>
<circle cx="503.6" cy="1374.8" r="5.75"/>
<circle cx="505.3" cy="1371.6" r="5.75"/>
<circle cx="507" cy="1368.3" r="5.75"/>
<circle cx="508.8" cy="1365" r="5.75"/>
<circle cx="510.5" cy="1361.6" r="5.75"/>
<circle cx="512.2" cy="1358.2" r="5.75"/>
<circle cx="513.9" cy="1354.8" r="5.75"/>
<circle cx="515.6" cy="1351" r="5.75"/>
<circle cx="517.4" cy="1347" r="5.75"/>
<circle cx="519.1" cy="1342.6" r="5.75"/>
<circle cx="520.8" cy="1337.5" r="5.75"/>
<circle cx="522.5" cy="1331.6" r="5.75"/>
<circle cx="524.3" cy="1325.2" r="5.75"/>
<circle cx="526" cy="1318.3" r="5.75"/>
<circle cx="527.7" cy="1311.3" r="5.75"/>
<circle cx="529.4" cy="1304.2" r="5.75"/>
<circle cx="531.1" cy="1297.2" r="5.75"/>
<circle cx="532.9" cy="1290.2" r="5.75"/>
<circle cx="534.6" cy="1283" r="5.75"/>
<circle cx="536.3" cy="1275.6" r="5.75"/>
<circle cx="538" cy="1267.8" r="5.75"/>
<circle cx="539.7" cy="1259.6" r="5.75"/>
<circle cx="541.5" cy="1250.6" r="5.75"/>
<circle cx="543.2" cy="1241" r="5.75"/>
<circle cx="544.9" cy="1230.9" r="5.75"/>
<circle cx="546.6" cy="1220.9" r="5.75"/>
<circle cx="548.4" cy="1211.3" r="5.75"/>
<circle cx="550.1" cy="1201.9" r="5.75"/>
<circle cx="551.8" cy="1192.4" r="5.75"/>
<circle cx="553.5" cy="1182.7" r="5.75"/>
<circle cx="555.2" cy="1172.4" r="5.75"/>
<circle cx="557" cy="1161.7" r="5.75"/>
<circle cx="558.7" cy="1150.4" r="5.75"/>
<circle cx="560.4" cy="1138.6" r="5.75"/>
<circle cx="562.1" cy="1125.8" r="5.75"/>
<circle cx="563.8" cy="1108.8" r="5.75"/>
<circle cx="565.6" cy="1094.1" r="5.75"/>
<circle cx="567.3" cy="1082.2" r="5.75"/>
<circle cx="569" cy="1070.9" r="5.75"/>
<circle cx="570.7" cy="1054.4" r="5.75"/>
<circle cx="572.5" cy="1036.6" r="5.75"/>
<circle cx="574.2" cy="1121.3" r="5.75"/>
<circle cx="575.9" cy="1278" r="5.75"/>
<circle cx="577.6" cy="1327.1" r="5.75"/>
<circle cx="579.3" cy="1351.3" r="5.75"/>
<circle cx="581.1" cy="1365.2" r="5.75"/>
<circle cx="582.8" cy="1385.1" r="5.75"/>
<circle cx="584.5" cy="1394.1" r="5.75"/>
<circle cx="586.2" cy="1400.7" r="5.75"/>
<circle cx="587.9" cy="1405" r="5.75"/>
<circle cx="589.7" cy="1408.1" r="5.75"/>
<circle cx="591.4" cy="1410.4" r="5.75"/>
<circle cx="593.1" cy="1412.4" r="5.75"/>
<circle cx="594.8" cy="1414.2" r="5.75"/>
<circle cx="596.6" cy="1415.8" r="5.75"/>
<circle cx="598.3" cy="1417" r="5.75"/>
<circle cx="600" cy="1417.8" r="5.75"/>
<circle cx="601.7" cy="1418.4" r="5.75"/>
<circle cx="603.4" cy="1418.9" r="5.75"/>
<circle cx="605.2" cy="1419.3" r="5.75"/>
<circle cx="606.9" cy="1419.8" r="5.75"/>
<circle cx="608.6" cy="1420.1" r="5.75"/>
<circle cx="610.3" cy="1420.5" r="5.75"/>
<circle cx="612" cy="1420.8" r="5.75"/>
<circle cx="613.8" cy="1421" r="5.75"/>
<circle cx="615.5" cy="1421.3" r="5.75"/>
<circle cx="617.2" cy="1421.5" r="5.75"/>
<circle cx="618.9" cy="1421.6" r="5.75"/>
<circle cx="620.6" cy="1421.7" r="5.75"/>
<circle cx="622.4" cy="1421.9" r="5.75"/>
<circle cx="624.1" cy="1422" r="5.75"/>
<circle cx="625.8" cy="1422.1" r="5.75"/>
<circle cx="627.5" cy="1422.2" r="5.75"/>
<circle cx="629.3" cy="1422.3" r="5.75"/>
<circle cx="631" cy="1422.4" r="5.75"/>
<circle cx="632.7" cy="1422.5" r="5.75"/>
<circle cx="634.4" cy="1422.6" r="5.75"/>
<circle cx="636.1" cy="1422.7" r="5.75"/>
<circle cx="637.9" cy="1422.8" r="5.75"/>
<circle cx="639.6" cy="1422.8" r="5.75"/>
<circle cx="641.3" cy="1422.9" r="5.75"/>
<circle cx="643" cy="1423" r="5.75"/>
<circle cx="644.7" cy="1423.1" r="5.75"/>
<circle cx="646.5" cy="1423.1" r="5.75"/>
<circle cx="648.2" cy="1423.2" r="5.75"/>
<circle cx="649.9" cy="1423.3" r="5.75"/>
<circle cx="651.6" cy="1423.3" r="5.75"/>
<circle cx="653.4" cy="1423.4" r="5.75"/>
<circle cx="655.1" cy="1423.4" r="5.75"/>
<circle cx="656.8" cy="1423.5" r="5.75"/>
<circle cx="658.5" cy="1423.5" r="5.75"/>
<circle cx="660.2" cy="1423.6" r="5.75"/>
<circle cx="662" cy="1423.6" r="5.75"/>
<circle cx="663.7" cy="1423.6" r="5.75"/>
<circle cx="665.4" cy="1423.7" r="5.75"/>
<circle cx="667.1" cy="1423.7" r="5.75"/>
<circle cx="668.8" cy="1423.7" r="5.75"/>
<circle cx="670.6" cy="1423.7" r="5.75"/>
<circle cx="672.3" cy="1423.8" r="5.75"/>
<circle cx="674" cy="1423.8" r="5.75"/>
<circle cx="675.7" cy="1423.8" r="5.75"/>
<circle cx="677.5" cy="1423.8" r="5.75"/>
<circle cx="679.2" cy="1423.5" r="5.75"/>
<circle cx="680.9" cy="1415" r="5.75"/>
<circle cx="682.9" cy="1410.1" r="5.75"/>
<circle cx="684.6" cy="1408.3" r="5.75"/>
<circle cx="686.3" cy="1406.4" r="5.75"/>
<circle cx="688" cy="1404.5" r="5.75"/>
<circle cx="689.8" cy="1402.6" r="5.75"/>
<circle cx="691.5" cy="1400.7" r="5.75"/>
<circle cx="693.2" cy="1398.8" r="5.75"/>
<circle cx="694.9" cy="1396.9" r="5.75"/>
<circle cx="696.7" cy="1395.1" r="5.75"/>
<circle cx="698.4" cy="1393.3" r="5.75"/>
<circle cx="700.1" cy="1391.5" r="5.75"/>
<circle cx="701.8" cy="1389.6" r="5.75"/>
<circle cx="703.5" cy="1387.7" r="5.75"/>
<circle cx="705.3" cy="1385.6" r="5.75"/>
<circle cx="707" cy="1383.3" r="5.75"/>
<circle cx="708.7" cy="1380.9" r="5.75"/>
<circle cx="710.4" cy="1378.2" r="5.75"/>
<circle cx="712.1" cy="1375.3" r="5.75"/>
<circle cx="713.9" cy="1372.3" r="5.75"/>
<circle cx="715.6" cy="1369.3" r="5.75"/>
<circle cx="717.3" cy="1366.2" r="5.75"/>
<circle cx="719" cy="1363.1" r="5.75"/>
<circle cx="720.8" cy="1360.1" r="5.75"/>
<circle cx="722.5" cy="1357" r="5.75"/>
<circle cx="724.2" cy="1353.8" r="5.75"/>
<circle cx="725.9" cy="1350.4" r="5.75"/>
<circle cx="727.6" cy="1346.9" r="5.75"/>
<circle cx="729.4" cy="1343.1" r="5.75"/>
<circle cx="731.1" cy="1339" r="5.75"/>
<circle cx="732.8" cy="1334.5" r="5.75"/>
<circle cx="734.5" cy="1329.6" r="5.75"/>
<circle cx="736.2" cy="1324.5" r="5.75"/>
<circle cx="738" cy="1319.2" r="5.75"/>
<circle cx="739.7" cy="1313.8" r="5.75"/>
<circle cx="741.4" cy="1308.2" r="5.75"/>
<circle cx="743.1" cy="1302.6" r="5.75"/>
<circle cx="744.9" cy="1297" r="5.75"/>
<circle cx="746.6" cy="1291.3" r="5.75"/>
<circle cx="748.3" cy="1285.6" r="5.75"/>
<circle cx="750" cy="1279.6" r="5.75"/>
<circle cx="751.7" cy="1273.4" r="5.75"/>
<circle cx="753.5" cy="1266.9" r="5.75"/>
<circle cx="755.2" cy="1260" r="5.75"/>
<circle cx="756.9" cy="1252.5" r="5.75"/>
<circle cx="758.6" cy="1244.1" r="5.75"/>
<circle cx="760.3" cy="1235.2" r="5.75"/>
<circle cx="762.1" cy="1226.3" r="5.75"/>
<circle cx="763.8" cy="1217.8" r="5.75"/>
<circle cx="765.5" cy="1209.7" r="5.75"/>
<circle cx="767.2" cy="1201.9" r="5.75"/>
<circle cx="768.9" cy="1194.2" r="5.75"/>
<circle cx="770.7" cy="1186.4" r="5.75"/>
<circle cx="772.4" cy="1178.2" r="5.75"/>
<circle cx="774.1" cy="1169.6" r="5.75"/>
<circle cx="775.8" cy="1160.7" r="5.75"/>
<circle cx="777.6" cy="1151.4" r="5.75"/>
<circle cx="779.3" cy="1142" r="5.75"/>
<circle cx="781" cy="1132.3" r="5.75"/>
<circle cx="782.7" cy="1121.6" r="5.75"/>
<circle cx="784.4" cy="1109.9" r="5.75"/>
<circle cx="786.2" cy="1100.2" r="5.75"/>
<circle cx="787.9" cy="1089.7" r="5.75"/>
<circle cx="789.6" cy="1079.9" r="5.75"/>
<circle cx="791.3" cy="1071.2" r="5.75"/>
<circle cx="793" cy="1061.2" r="5.75"/>
<circle cx="794.8" cy="1044.9" r="5.75"/>
<circle cx="796.5" cy="1031.2" r="5.75"/>
<circle cx="798.2" cy="1100.3" r="5.75"/>
<circle cx="799.9" cy="1272" r="5.75"/>
<circle cx="801.7" cy="1327.1" r="5.75"/>
<circle cx="803.4" cy="1352.1" r="5.75"/>
<circle cx="805.1" cy="1366.6" r="5.75"/>
<circle cx="806.8" cy="1387.9" r="5.75"/>
<circle cx="808.5" cy="1395.3" r="5.75"/>
<circle cx="810.3" cy="1400.4" r="5.75"/>
<circle cx="812" cy="1404" r="5.75"/>
<circle cx="813.7" cy="1406.8" r="5.75"/>
<circle cx="815.4" cy="1408.9" r="5.75"/>
<circle cx="817.1" cy="1410.5" r="5.75"/>
<circle cx="818.9" cy="1412" r="5.75"/>
<circle cx="820.6" cy="1413.3" r="5.75"/>
<circle cx="822.3" cy="1414.3" r="5.75"/>
<circle cx="824" cy="1415.2" r="5.75"/>
<circle cx="825.8" cy="1415.7" r="5.75"/>
<circle cx="827.5" cy="1416.2" r="5.75"/>
<circle cx="829.2" cy="1416.6" r="5.75"/>
<circle cx="830.9" cy="1416.9" r="5.75"/>
<circle cx="832.6" cy="1417.2" r="5.75"/>
<circle cx="834.4" cy="1417.5" r="5.75"/>
<circle cx="836.1" cy="1417.8" r="5.75"/>
<circle cx="837.8" cy="1418" r="5.75"/>
<circle cx="839.5" cy="1418.2" r="5.75"/>
<circle cx="841.2" cy="1418.5" r="5.75"/>
<circle cx="843" cy="1418.8" r="5.75"/>
<circle cx="844.7" cy="1419" r="5.75"/>
<circle cx="846.4" cy="1419.3" r="5.75"/>
<circle cx="848.1" cy="1419.6" r="5.75"/>
<circle cx="849.9" cy="1419.9" r="5.75"/>
<circle cx="851.6" cy="1420.1" r="5.75"/>
<circle cx="853.3" cy="1420.4" r="5.75"/>
<circle cx="855" cy="1420.7" r="5.75"/>
<circle cx="856.7" cy="1420.9" r="5.75"/>
<circle cx="858.5" cy="1421.2" r="5.75"/>
<circle cx="860.2" cy="1421.5" r="5.75"/>
<circle cx="861.9" cy="1421.7" r="5.75"/>
<circle cx="863.6" cy="1422" r="5.75"/>
<circle cx="865.3" cy="1422.2" r="5.75"/>
<circle cx="867.1" cy="1422.5" r="5.75"/>
<circle cx="868.8" cy="1422.7" r="5.75"/>
<circle cx="870.5" cy="1422.9" r="5.75"/>
<circle cx="872.2" cy="1423.2" r="5.75"/>
<circle cx="874" cy="1423.4" r="5.75"/>
<circle cx="875.7" cy="1423.6" r="5.75"/>
<circle cx="877.4" cy="1423.9" r="5.75"/>
<circle cx="879.1" cy="1424.1" r="5.75"/>
<circle cx="880.8" cy="1424.3" r="5.75"/>
<circle cx="882.6" cy="1424.5" r="5.75"/>
<circle cx="884.3" cy="1424.7" r="5.75"/>
<circle cx="886" cy="1424.9" r="5.75"/>
</g>
<path d="M1098.5 1410.2 1100.3 1410.4 1102.1 1410.5 1103.9 1410.7 1105.6 1410.9 1107.4 1411 1109.2 1411.2 1111 1411.3 1112.8 1411.5 1114.6 1411.6 1116.4 1411.8 1118.2 1412 1119.9 1412.1 1121.7 1412.3 1123.5 1412.4 1125.3 1412.6 1127.1 1412.7 1128.9 1412.9 1130.7 1413.1 1132.4 1413.2 1134.2 1413.4 1136 1413.5 1137.8 1413.7 1139.6 1413.8 1141.4 1414 1143.2 1414.2 1144.9 1414.3 1146.7 1414.5 1148.5 1414.6 1150.3 1414.8 1152.1 1414.9 1153.9 1415.1 1155.7 1413.4 1157.5 1406.7 1159.2 1403.5 1161 1401.6 1162.8 1399.6 1164.6 1397.6 1166.4 1395.6 1168.2 1393.5 1170 1391.4 1171.7 1389.3 1173.5 1387.1 1175.3 1385 1177.1 1382.9 1178.9 1380.7 1180.7 1378.4 1182.5 1375.9 1184.3 1373.3 1186 1370.4 1187.8 1367.3 1189.6 1364 1191.4 1360.6 1193.2 1357.1 1195 1353.5 1196.8 1349.9 1198.5 1346.2 1200.3 1342.3 1202.1 1338.3 1203.9 1334.2 1205.7 1330 1207.5 1325.9 1209.3 1321.7 1211.1 1317.4 1212.8 1313 1214.6 1308.4 1216.4 1303.6 1218.2 1298.5 1220 1293.2 1221.8 1287.3 1223.6 1280.1 1225.3 1272.1 1227.1 1264.1 1228.9 1256.6 1230.7 1250.4 1232.5 1245.9 1234.3 1242.5 1236.1 1239.3 1237.8 1235.5 1239.6 1230.5 1241.4 1224.6 1243.2 1217.9 1245 1210.6 1246.8 1202.6 1248.6 1193 1250.4 1182.7 1252.1 1172.6 1253.9 1163.8 1255.7 1155.9 1257.5 1148.7 1259.3 1141.8 1261.1 1136.1 1262.9 1130.6 1264.6 1123.2 1266.4 1109.9 1268.2 1095.4 1270 1080.4 1271.8 1060.8 1273.6 1038.3 1275.4 1083.6 1277.2 1256.2 1278.9 1327.8 1280.7 1350.6 1282.5 1370.2 1284.3 1377 1286.1 1381.8 1287.9 1385.8 1289.7 1389.1 1291.4 1391.6 1293.2 1393.7 1295 1395.5 1296.8 1396.8 1298.6 1397.8 1300.4 1398.7 1302.2 1399.5 1304 1400.2 1305.7 1400.9 1307.5 1401.5 1309.3 1402.1 1311.1 1402.6 1312.9 1403.1 1314.7 1403.5 1316.5 1404 1318.2 1404.4 1320 1404.8 1321.8 1405.3 1323.6 1405.6 1325.4 1406 1327.2 1406.4 1329 1406.7 1330.7 1407.1 1332.5 1407.4 1334.3 1407.7 1336.1 1408 1337.9 1408.3 1339.7 1408.6 1341.5 1408.9 1343.3 1409.1 1345 1409.4 1346.8 1409.7 1348.6 1409.9 1350.4 1410.2 1352.2 1410.4 1354 1410.6 1355.8 1410.9 1357.5 1411.1 1359.3 1411.3 1361.1 1411.5 1362.9 1411.7 1364.7 1411.9 1366.5 1412.1 1368.3 1412.3 1370.1 1412.5 1371.8 1412.7 1373.6 1412.9 1375.4 1413.1 1377.2 1413.3 1379 1413.6 1380.8 1413.8 1382.6 1414.1 1384.3 1414.3 1386.1 1414.4 1387.9 1408.5 1389 1405 1390.8 1403.4 1392.6 1401.9 1394.4 1400.2 1396.2 1398.5 1398 1396.8 1399.7 1395 1401.5 1393.1 1403.3 1391.3 1405.1 1389.4 1406.9 1387.5 1408.7 1385.7 1410.5 1383.9 1412.2 1382 1414 1380.1 1415.8 1378.1 1417.6 1376 1419.4 1373.6 1421.2 1371.1 1423 1368.2 1424.7 1365 1426.5 1361.6 1428.3 1358 1430.1 1354.3 1431.9 1350.6 1433.7 1346.6 1435.5 1342.4 1437.3 1338.1 1439 1333.6 1440.8 1329.2 1442.6 1324.7 1444.4 1320.2 1446.2 1315.6 1448 1311 1449.8 1306.3 1451.5 1301.6 1453.3 1296.8 1455.1 1292 1456.9 1287.1 1458.7 1282.1 1460.5 1276.9 1462.3 1271.6 1464.1 1266.3 1465.8 1261.4 1467.6 1257 1469.4 1253.2 1471.2 1249.6 1473 1245.3 1474.8 1240.2 1476.6 1234.4 1478.3 1228.2 1480.1 1221.4 1481.9 1214 1483.7 1206.1 1485.5 1197.9 1487.3 1189.3 1489.1 1180.6 1490.9 1171.3 1492.6 1161.5 1494.4 1151.5 1496.2 1141.3 1498 1130.3 1499.8 1120.9 1501.6 1110.1 1503.4 1100.7 1505.1 1091.1 1506.9 1080.4 1508.7 1069.8 1510.5 1059.1 1512.3 1046.1 1514.1 1023.6 1515.9 1137.6 1517.6 1279.4 1519.4 1330.9 1521.2 1353.4 1523 1375.8 1524.8 1382.2 1526.6 1386.2 1528.4 1389.1 1530.2 1391.5 1531.9 1393.3 1533.7 1394.7 1535.5 1395.8 1537.3 1396.8 1539.1 1397.7 1540.9 1398.5 1542.7 1399.3 1544.4 1400 1546.2 1400.6 1548 1401.2 1549.8 1401.8 1551.6 1402.3 1553.4 1402.8 1555.2 1403.4 1557 1403.9 1558.7 1404.4 1560.5 1404.9 1562.3 1405.4 1564.1 1405.9 1565.9 1406.3 1567.7 1406.8 1569.5 1407.2 1571.2 1407.6 1573 1408 1574.8 1408.4 1576.6 1408.7 1578.4 1409 1580.2 1409.3 1582 1409.6 1583.8 1409.8 1585.5 1410.1 1587.3 1410.4 1589.1 1410.6 1590.9 1410.9 1592.7 1411.2 1594.5 1411.4 1596.3 1411.6 1598 1411.9 1599.8 1412.1 1601.6 1412.3 1603.4 1412.5 1605.2 1412.7 1607 1412.9 1608.8 1413 1610.5 1413.2 1612.3 1413.3 1614.1 1413.4 1615.9 1413.6 1617.7 1413.6 1619.5 1413.7 1621.3 1413.7 1623.1 1406.7 1624.6 1401.5 1626.4 1399 1628.1 1396.6 1629.9 1394.2 1631.7 1391.8 1633.5 1389.4 1635.3 1387 1637.1 1384.8 1638.9 1382.5 1640.6 1380.3 1642.4 1378 1644.2 1375.6 1646 1373.1 1647.8 1370.3 1649.6 1367.4 1651.4 1364.3 1653.2 1361.1 1654.9 1357.8 1656.7 1354.4 1658.5 1351 1660.3 1347.7 1662.1 1344.2 1663.9 1340.7 1665.7 1337 1667.4 1333.2 1669.2 1329.2 1671 1325 1672.8 1320.6 1674.6 1316 1676.4 1311.3 1678.2 1306.4 1679.9 1301.4 1681.7 1296.2 1683.5 1290.9 1685.3 1285.5 1687.1 1279.6 1688.9 1273.3 1690.7 1266.9 1692.5 1260.9 1694.2 1255.7 1696 1251.1 1697.8 1246.7 1699.6 1242.1 1701.4 1237.7 1703.2 1232.8 1705 1226.5 1706.7 1217.5 1708.5 1207 1710.3 1196.2 1712.1 1186.7 1713.9 1178.8 1715.7 1171.8 1717.5 1165.1 1719.3 1158.5 1721 1151.4 1722.8 1143.5 1724.6 1134.5 1726.4 1122.6 1728.2 1107.1 1730 1094.8 1731.8 1086.7 1733.5 1076.1 1735.3 1066.1 1737.1 1052.3 1738.9 1034.1 1740.7 1066 1742.5 1242.9 1744.3 1315.5 1746.1 1340.1 1747.8 1354.8 1749.6 1372.3 1751.4 1377.9 1753.2 1381.9 1755 1384.9 1756.8 1387.4 1758.6 1389.7 1760.3 1391.7 1762.1 1393.5 1763.9 1395 1765.7 1396.4 1767.5 1397.6 1769.3 1398.8 1771.1 1399.9 1772.8 1400.9 1774.6 1401.9 1776.4 1402.8 1778.2 1403.7 1780 1404.4 1781.8 1405.1 1783.6 1405.8 1785.4 1406.3 1787.1 1406.8 1788.9 1407.2 1790.7 1407.6 1792.5 1408 1794.3 1408.4 1796.1 1408.7 1797.9 1409 1799.6 1409.3 1801.4 1409.6 1803.2 1409.9 1805 1410.1 1806.8 1410.4 1808.6 1410.7 1810.4 1410.9 1812.2 1411.1 1813.9 1411.4 1815.7 1411.6 1817.5 1411.9 1819.3 1412.1 1821.1 1412.4 1822.9 1412.6 1824.7 1412.8 1826.4 1413 1828.2 1413.2 1830 1413.4 1831.8 1413.6 1833.6 1413.8 1835.4 1414 1837.2 1414.1 1839 1414.3" stroke="#ff0000" stroke-width="3.6" fill="none" stroke-linejoin="round"/>
<g fill="#fff" stroke="#2eaa68" stroke-width="2.8">
<circle cx="1098.5" cy="1410.2" r="5.75"/>
<circle cx="1100.3" cy="1410.4" r="5.75"/>
<circle cx="1102.1" cy="1410.5" r="5.75"/>
<circle cx="1103.9" cy="1410.7" r="5.75"/>
<circle cx="1105.6" cy="1410.9" r="5.75"/>
<circle cx="1107.4" cy="1411" r="5.75"/>
<circle cx="1109.2" cy="1411.2" r="5.75"/>
<circle cx="1111" cy="1411.3" r="5.75"/>
<circle cx="1112.8" cy="1411.5" r="5.75"/>
<circle cx="1114.6" cy="1411.6" r="5.75"/>
<circle cx="1116.4" cy="1411.8" r="5.75"/>
<circle cx="1118.2" cy="1412" r="5.75"/>
<circle cx="1119.9" cy="1412.1" r="5.75"/>
<circle cx="1121.7" cy="1412.3" r="5.75"/>
<circle cx="1123.5" cy="1412.4" r="5.75"/>
<circle cx="1125.3" cy="1412.6" r="5.75"/>
<circle cx="1127.1" cy="1412.7" r="5.75"/>
<circle cx="1128.9" cy="1412.9" r="5.75"/>
<circle cx="1130.7" cy="1413.1" r="5.75"/>
<circle cx="1132.4" cy="1413.2" r="5.75"/>
<circle cx="1134.2" cy="1413.4" r="5.75"/>
<circle cx="1136" cy="1413.5" r="5.75"/>
<circle cx="1137.8" cy="1413.7" r="5.75"/>
<circle cx="1139.6" cy="1413.8" r="5.75"/>
<circle cx="1141.4" cy="1414" r="5.75"/>
<circle cx="1143.2" cy="1414.2" r="5.75"/>
<circle cx="1144.9" cy="1414.3" r="5.75"/>
<circle cx="1146.7" cy="1414.5" r="5.75"/>
<circle cx="1148.5" cy="1414.6" r="5.75"/>
<circle cx="1150.3" cy="1414.8" r="5.75"/>
<circle cx="1152.1" cy="1414.9" r="5.75"/>
<circle cx="1153.9" cy="1415.1" r="5.75"/>
<circle cx="1155.7" cy="1413.4" r="5.75"/>
<circle cx="1157.5" cy="1406.7" r="5.75"/>
<circle cx="1159.2" cy="1403.5" r="5.75"/>
<circle cx="1161" cy="1401.6" r="5.75"/>
<circle cx="1162.8" cy="1399.6" r="5.75"/>
<circle cx="1164.6" cy="1397.6" r="5.75"/>
<circle cx="1166.4" cy="1395.6" r="5.75"/>
<circle cx="1168.2" cy="1393.5" r="5.75"/>
<circle cx="1170" cy="1391.4" r="5.75"/>
<circle cx="1171.7" cy="1389.3" r="5.75"/>
<circle cx="1173.5" cy="1387.1" r="5.75"/>
<circle cx="1175.3" cy="1385" r="5.75"/>
<circle cx="1177.1" cy="1382.9" r="5.75"/>
<circle cx="1178.9" cy="1380.7" r="5.75"/>
<circle cx="1180.7" cy="1378.4" r="5.75"/>
<circle cx="1182.5" cy="1375.9" r="5.75"/>
<circle cx="1184.3" cy="1373.3" r="5.75"/>
<circle cx="1186" cy="1370.4" r="5.75"/>
<circle cx="1187.8" cy="1367.3" r="5.75"/>
<circle cx="1189.6" cy="1364" r="5.75"/>
<circle cx="1191.4" cy="1360.6" r="5.75"/>
<circle cx="1193.2" cy="1357.1" r="5.75"/>
<circle cx="1195" cy="1353.5" r="5.75"/>
<circle cx="1196.8" cy="1349.9" r="5.75"/>
<circle cx="1198.5" cy="1346.2" r="5.75"/>
<circle cx="1200.3" cy="1342.3" r="5.75"/>
<circle cx="1202.1" cy="1338.3" r="5.75"/>
<circle cx="1203.9" cy="1334.2" r="5.75"/>
<circle cx="1205.7" cy="1330" r="5.75"/>
<circle cx="1207.5" cy="1325.9" r="5.75"/>
<circle cx="1209.3" cy="1321.7" r="5.75"/>
<circle cx="1211.1" cy="1317.4" r="5.75"/>
<circle cx="1212.8" cy="1313" r="5.75"/>
<circle cx="1214.6" cy="1308.4" r="5.75"/>
<circle cx="1216.4" cy="1303.6" r="5.75"/>
<circle cx="1218.2" cy="1298.5" r="5.75"/>
<circle cx="1220" cy="1293.2" r="5.75"/>
<circle cx="1221.8" cy="1287.3" r="5.75"/>
<circle cx="1223.6" cy="1280.1" r="5.75"/>
<circle cx="1225.3" cy="1272.1" r="5.75"/>
<circle cx="1227.1" cy="1264.1" r="5.75"/>
<circle cx="1228.9" cy="1256.6" r="5.75"/>
<circle cx="1230.7" cy="1250.4" r="5.75"/>
<circle cx="1232.5" cy="1245.9" r="5.75"/>
<circle cx="1234.3" cy="1242.5" r="5.75"/>
<circle cx="1236.1" cy="1239.3" r="5.75"/>
<circle cx="1237.8" cy="1235.5" r="5.75"/>
<circle cx="1239.6" cy="1230.5" r="5.75"/>
<circle cx="1241.4" cy="1224.6" r="5.75"/>
<circle cx="1243.2" cy="1217.9" r="5.75"/>
<circle cx="1245" cy="1210.6" r="5.75"/>
<circle cx="1246.8" cy="1202.6" r="5.75"/>
<circle cx="1248.6" cy="1193" r="5.75"/>
<circle cx="1250.4" cy="1182.7" r="5.75"/>
<circle cx="1252.1" cy="1172.6" r="5.75"/>
<circle cx="1253.9" cy="1163.8" r="5.75"/>
<circle cx="1255.7" cy="1155.9" r="5.75"/>
<circle cx="1257.5" cy="1148.7" r="5.75"/>
<circle cx="1259.3" cy="1141.8" r="5.75"/>
<circle cx="1261.1" cy="1136.1" r="5.75"/>
<circle cx="1262.9" cy="1130.6" r="5.75"/>
<circle cx="1264.6" cy="1123.2" r="5.75"/>
<circle cx="1266.4" cy="1109.9" r="5.75"/>
<circle cx="1268.2" cy="1095.4" r="5.75"/>
<circle cx="1270" cy="1080.4" r="5.75"/>
<circle cx="1271.8" cy="1060.8" r="5.75"/>
<circle cx="1273.6" cy="1038.3" r="5.75"/>
<circle cx="1275.4" cy="1083.6" r="5.75"/>
<circle cx="1277.2" cy="1256.2" r="5.75"/>
<circle cx="1278.9" cy="1327.8" r="5.75"/>
<circle cx="1280.7" cy="1350.6" r="5.75"/>
<circle cx="1282.5" cy="1370.2" r="5.75"/>
<circle cx="1284.3" cy="1377" r="5.75"/>
<circle cx="1286.1" cy="1381.8" r="5.75"/>
<circle cx="1287.9" cy="1385.8" r="5.75"/>
<circle cx="1289.7" cy="1389.1" r="5.75"/>
<circle cx="1291.4" cy="1391.6" r="5.75"/>
<circle cx="1293.2" cy="1393.7" r="5.75"/>
<circle cx="1295" cy="1395.5" r="5.75"/>
<circle cx="1296.8" cy="1396.8" r="5.75"/>
<circle cx="1298.6" cy="1397.8" r="5.75"/>
<circle cx="1300.4" cy="1398.7" r="5.75"/>
<circle cx="1302.2" cy="1399.5" r="5.75"/>
<circle cx="1304" cy="1400.2" r="5.75"/>
<circle cx="1305.7" cy="1400.9" r="5.75"/>
<circle cx="1307.5" cy="1401.5" r="5.75"/>
<circle cx="1309.3" cy="1402.1" r="5.75"/>
<circle cx="1311.1" cy="1402.6" r="5.75"/>
<circle cx="1312.9" cy="1403.1" r="5.75"/>
<circle cx="1314.7" cy="1403.5" r="5.75"/>
<circle cx="1316.5" cy="1404" r="5.75"/>
<circle cx="1318.2" cy="1404.4" r="5.75"/>
<circle cx="1320" cy="1404.8" r="5.75"/>
<circle cx="1321.8" cy="1405.3" r="5.75"/>
<circle cx="1323.6" cy="1405.6" r="5.75"/>
<circle cx="1325.4" cy="1406" r="5.75"/>
<circle cx="1327.2" cy="1406.4" r="5.75"/>
<circle cx="1329" cy="1406.7" r="5.75"/>
<circle cx="1330.7" cy="1407.1" r="5.75"/>
<circle cx="1332.5" cy="1407.4" r="5.75"/>
<circle cx="1334.3" cy="1407.7" r="5.75"/>
<circle cx="1336.1" cy="1408" r="5.75"/>
<circle cx="1337.9" cy="1408.3" r="5.75"/>
<circle cx="1339.7" cy="1408.6" r="5.75"/>
<circle cx="1341.5" cy="1408.9" r="5.75"/>
<circle cx="1343.3" cy="1409.1" r="5.75"/>
<circle cx="1345" cy="1409.4" r="5.75"/>
<circle cx="1346.8" cy="1409.7" r="5.75"/>
<circle cx="1348.6" cy="1409.9" r="5.75"/>
<circle cx="1350.4" cy="1410.2" r="5.75"/>
<circle cx="1352.2" cy="1410.4" r="5.75"/>
<circle cx="1354" cy="1410.6" r="5.75"/>
<circle cx="1355.8" cy="1410.9" r="5.75"/>
<circle cx="1357.5" cy="1411.1" r="5.75"/>
<circle cx="1359.3" cy="1411.3" r="5.75"/>
<circle cx="1361.1" cy="1411.5" r="5.75"/>
<circle cx="1362.9" cy="1411.7" r="5.75"/>
<circle cx="1364.7" cy="1411.9" r="5.75"/>
<circle cx="1366.5" cy="1412.1" r="5.75"/>
<circle cx="1368.3" cy="1412.3" r="5.75"/>
<circle cx="1370.1" cy="1412.5" r="5.75"/>
<circle cx="1371.8" cy="1412.7" r="5.75"/>
<circle cx="1373.6" cy="1412.9" r="5.75"/>
<circle cx="1375.4" cy="1413.1" r="5.75"/>
<circle cx="1377.2" cy="1413.3" r="5.75"/>
<circle cx="1379" cy="1413.6" r="5.75"/>
<circle cx="1380.8" cy="1413.8" r="5.75"/>
<circle cx="1382.6" cy="1414.1" r="5.75"/>
<circle cx="1384.3" cy="1414.3" r="5.75"/>
<circle cx="1386.1" cy="1414.4" r="5.75"/>
<circle cx="1387.9" cy="1408.5" r="5.75"/>
<circle cx="1389" cy="1405" r="5.75"/>
<circle cx="1390.8" cy="1403.4" r="5.75"/>
<circle cx="1392.6" cy="1401.9" r="5.75"/>
<circle cx="1394.4" cy="1400.2" r="5.75"/>
<circle cx="1396.2" cy="1398.5" r="5.75"/>
<circle cx="1398" cy="1396.8" r="5.75"/>
<circle cx="1399.7" cy="1395" r="5.75"/>
<circle cx="1401.5" cy="1393.1" r="5.75"/>
<circle cx="1403.3" cy="1391.3" r="5.75"/>
<circle cx="1405.1" cy="1389.4" r="5.75"/>
<circle cx="1406.9" cy="1387.5" r="5.75"/>
<circle cx="1408.7" cy="1385.7" r="5.75"/>
<circle cx="1410.5" cy="1383.9" r="5.75"/>
<circle cx="1412.2" cy="1382" r="5.75"/>
<circle cx="1414" cy="1380.1" r="5.75"/>
<circle cx="1415.8" cy="1378.1" r="5.75"/>
<circle cx="1417.6" cy="1376" r="5.75"/>
<circle cx="1419.4" cy="1373.6" r="5.75"/>
<circle cx="1421.2" cy="1371.1" r="5.75"/>
<circle cx="1423" cy="1368.2" r="5.75"/>
<circle cx="1424.7" cy="1365" r="5.75"/>
<circle cx="1426.5" cy="1361.6" r="5.75"/>
<circle cx="1428.3" cy="1358" r="5.75"/>
<circle cx="1430.1" cy="1354.3" r="5.75"/>
<circle cx="1431.9" cy="1350.6" r="5.75"/>
<circle cx="1433.7" cy="1346.6" r="5.75"/>
<circle cx="1435.5" cy="1342.4" r="5.75"/>
<circle cx="1437.3" cy="1338.1" r="5.75"/>
<circle cx="1439" cy="1333.6" r="5.75"/>
<circle cx="1440.8" cy="1329.2" r="5.75"/>
<circle cx="1442.6" cy="1324.7" r="5.75"/>
<circle cx="1444.4" cy="1320.2" r="5.75"/>
<circle cx="1446.2" cy="1315.6" r="5.75"/>
<circle cx="1448" cy="1311" r="5.75"/>
<circle cx="1449.8" cy="1306.3" r="5.75"/>
<circle cx="1451.5" cy="1301.6" r="5.75"/>
<circle cx="1453.3" cy="1296.8" r="5.75"/>
<circle cx="1455.1" cy="1292" r="5.75"/>
<circle cx="1456.9" cy="1287.1" r="5.75"/>
<circle cx="1458.7" cy="1282.1" r="5.75"/>
<circle cx="1460.5" cy="1276.9" r="5.75"/>
<circle cx="1462.3" cy="1271.6" r="5.75"/>
<circle cx="1464.1" cy="1266.3" r="5.75"/>
<circle cx="1465.8" cy="1261.4" r="5.75"/>
<circle cx="1467.6" cy="1257" r="5.75"/>
<circle cx="1469.4" cy="1253.2" r="5.75"/>
<circle cx="1471.2" cy="1249.6" r="5.75"/>
<circle cx="1473" cy="1245.3" r="5.75"/>
<circle cx="1474.8" cy="1240.2" r="5.75"/>
<circle cx="1476.6" cy="1234.4" r="5.75"/>
<circle cx="1478.3" cy="1228.2" r="5.75"/>
<circle cx="1480.1" cy="1221.4" r="5.75"/>
<circle cx="1481.9" cy="1214" r="5.75"/>
<circle cx="1483.7" cy="1206.1" r="5.75"/>
<circle cx="1485.5" cy="1197.9" r="5.75"/>
<circle cx="1487.3" cy="1189.3" r="5.75"/>
<circle cx="1489.1" cy="1180.6" r="5.75"/>
<circle cx="1490.9" cy="1171.3" r="5.75"/>
<circle cx="1492.6" cy="1161.5" r="5.75"/>
<circle cx="1494.4" cy="1151.5" r="5.75"/>
<circle cx="1496.2" cy="1141.3" r="5.75"/>
<circle cx="1498" cy="1130.3" r="5.75"/>
<circle cx="1499.8" cy="1120.9" r="5.75"/>
<circle cx="1501.6" cy="1110.1" r="5.75"/>
<circle cx="1503.4" cy="1100.7" r="5.75"/>
<circle cx="1505.1" cy="1091.1" r="5.75"/>
<circle cx="1506.9" cy="1080.4" r="5.75"/>
<circle cx="1508.7" cy="1069.8" r="5.75"/>
<circle cx="1510.5" cy="1059.1" r="5.75"/>
<circle cx="1512.3" cy="1046.1" r="5.75"/>
<circle cx="1514.1" cy="1023.6" r="5.75"/>
<circle cx="1515.9" cy="1137.6" r="5.75"/>
<circle cx="1517.6" cy="1279.4" r="5.75"/>
<circle cx="1519.4" cy="1330.9" r="5.75"/>
<circle cx="1521.2" cy="1353.4" r="5.75"/>
<circle cx="1523" cy="1375.8" r="5.75"/>
<circle cx="1524.8" cy="1382.2" r="5.75"/>
<circle cx="1526.6" cy="1386.2" r="5.75"/>
<circle cx="1528.4" cy="1389.1" r="5.75"/>
<circle cx="1530.2" cy="1391.5" r="5.75"/>
<circle cx="1531.9" cy="1393.3" r="5.75"/>
<circle cx="1533.7" cy="1394.7" r="5.75"/>
<circle cx="1535.5" cy="1395.8" r="5.75"/>
<circle cx="1537.3" cy="1396.8" r="5.75"/>
<circle cx="1539.1" cy="1397.7" r="5.75"/>
<circle cx="1540.9" cy="1398.5" r="5.75"/>
<circle cx="1542.7" cy="1399.3" r="5.75"/>
<circle cx="1544.4" cy="1400" r="5.75"/>
<circle cx="1546.2" cy="1400.6" r="5.75"/>
<circle cx="1548" cy="1401.2" r="5.75"/>
<circle cx="1549.8" cy="1401.8" r="5.75"/>
<circle cx="1551.6" cy="1402.3" r="5.75"/>
<circle cx="1553.4" cy="1402.8" r="5.75"/>
<circle cx="1555.2" cy="1403.4" r="5.75"/>
<circle cx="1557" cy="1403.9" r="5.75"/>
<circle cx="1558.7" cy="1404.4" r="5.75"/>
<circle cx="1560.5" cy="1404.9" r="5.75"/>
<circle cx="1562.3" cy="1405.4" r="5.75"/>
<circle cx="1564.1" cy="1405.9" r="5.75"/>
<circle cx="1565.9" cy="1406.3" r="5.75"/>
<circle cx="1567.7" cy="1406.8" r="5.75"/>
<circle cx="1569.5" cy="1407.2" r="5.75"/>
<circle cx="1571.2" cy="1407.6" r="5.75"/>
<circle cx="1573" cy="1408" r="5.75"/>
<circle cx="1574.8" cy="1408.4" r="5.75"/>
<circle cx="1576.6" cy="1408.7" r="5.75"/>
<circle cx="1578.4" cy="1409" r="5.75"/>
<circle cx="1580.2" cy="1409.3" r="5.75"/>
<circle cx="1582" cy="1409.6" r="5.75"/>
<circle cx="1583.8" cy="1409.8" r="5.75"/>
<circle cx="1585.5" cy="1410.1" r="5.75"/>
<circle cx="1587.3" cy="1410.4" r="5.75"/>
<circle cx="1589.1" cy="1410.6" r="5.75"/>
<circle cx="1590.9" cy="1410.9" r="5.75"/>
<circle cx="1592.7" cy="1411.2" r="5.75"/>
<circle cx="1594.5" cy="1411.4" r="5.75"/>
<circle cx="1596.3" cy="1411.6" r="5.75"/>
<circle cx="1598" cy="1411.9" r="5.75"/>
<circle cx="1599.8" cy="1412.1" r="5.75"/>
<circle cx="1601.6" cy="1412.3" r="5.75"/>
<circle cx="1603.4" cy="1412.5" r="5.75"/>
<circle cx="1605.2" cy="1412.7" r="5.75"/>
<circle cx="1607" cy="1412.9" r="5.75"/>
<circle cx="1608.8" cy="1413" r="5.75"/>
<circle cx="1610.5" cy="1413.2" r="5.75"/>
<circle cx="1612.3" cy="1413.3" r="5.75"/>
<circle cx="1614.1" cy="1413.4" r="5.75"/>
<circle cx="1615.9" cy="1413.6" r="5.75"/>
<circle cx="1617.7" cy="1413.6" r="5.75"/>
<circle cx="1619.5" cy="1413.7" r="5.75"/>
<circle cx="1621.3" cy="1413.7" r="5.75"/>
<circle cx="1623.1" cy="1406.7" r="5.75"/>
<circle cx="1624.6" cy="1401.5" r="5.75"/>
<circle cx="1626.4" cy="1399" r="5.75"/>
<circle cx="1628.1" cy="1396.6" r="5.75"/>
<circle cx="1629.9" cy="1394.2" r="5.75"/>
<circle cx="1631.7" cy="1391.8" r="5.75"/>
<circle cx="1633.5" cy="1389.4" r="5.75"/>
<circle cx="1635.3" cy="1387" r="5.75"/>
<circle cx="1637.1" cy="1384.8" r="5.75"/>
<circle cx="1638.9" cy="1382.5" r="5.75"/>
<circle cx="1640.6" cy="1380.3" r="5.75"/>
<circle cx="1642.4" cy="1378" r="5.75"/>
<circle cx="1644.2" cy="1375.6" r="5.75"/>
<circle cx="1646" cy="1373.1" r="5.75"/>
<circle cx="1647.8" cy="1370.3" r="5.75"/>
<circle cx="1649.6" cy="1367.4" r="5.75"/>
<circle cx="1651.4" cy="1364.3" r="5.75"/>
<circle cx="1653.2" cy="1361.1" r="5.75"/>
<circle cx="1654.9" cy="1357.8" r="5.75"/>
<circle cx="1656.7" cy="1354.4" r="5.75"/>
<circle cx="1658.5" cy="1351" r="5.75"/>
<circle cx="1660.3" cy="1347.7" r="5.75"/>
<circle cx="1662.1" cy="1344.2" r="5.75"/>
<circle cx="1663.9" cy="1340.7" r="5.75"/>
<circle cx="1665.7" cy="1337" r="5.75"/>
<circle cx="1667.4" cy="1333.2" r="5.75"/>
<circle cx="1669.2" cy="1329.2" r="5.75"/>
<circle cx="1671" cy="1325" r="5.75"/>
<circle cx="1672.8" cy="1320.6" r="5.75"/>
<circle cx="1674.6" cy="1316" r="5.75"/>
<circle cx="1676.4" cy="1311.3" r="5.75"/>
<circle cx="1678.2" cy="1306.4" r="5.75"/>
<circle cx="1679.9" cy="1301.4" r="5.75"/>
<circle cx="1681.7" cy="1296.2" r="5.75"/>
<circle cx="1683.5" cy="1290.9" r="5.75"/>
<circle cx="1685.3" cy="1285.5" r="5.75"/>
<circle cx="1687.1" cy="1279.6" r="5.75"/>
<circle cx="1688.9" cy="1273.3" r="5.75"/>
<circle cx="1690.7" cy="1266.9" r="5.75"/>
<circle cx="1692.5" cy="1260.9" r="5.75"/>
<circle cx="1694.2" cy="1255.7" r="5.75"/>
<circle cx="1696" cy="1251.1" r="5.75"/>
<circle cx="1697.8" cy="1246.7" r="5.75"/>
<circle cx="1699.6" cy="1242.1" r="5.75"/>
<circle cx="1701.4" cy="1237.7" r="5.75"/>
<circle cx="1703.2" cy="1232.8" r="5.75"/>
<circle cx="1705" cy="1226.5" r="5.75"/>
<circle cx="1706.7" cy="1217.5" r="5.75"/>
<circle cx="1708.5" cy="1207" r="5.75"/>
<circle cx="1710.3" cy="1196.2" r="5.75"/>
<circle cx="1712.1" cy="1186.7" r="5.75"/>
<circle cx="1713.9" cy="1178.8" r="5.75"/>
<circle cx="1715.7" cy="1171.8" r="5.75"/>
<circle cx="1717.5" cy="1165.1" r="5.75"/>
<circle cx="1719.3" cy="1158.5" r="5.75"/>
<circle cx="1721" cy="1151.4" r="5.75"/>
<circle cx="1722.8" cy="1143.5" r="5.75"/>
<circle cx="1724.6" cy="1134.5" r="5.75"/>
<circle cx="1726.4" cy="1122.6" r="5.75"/>
<circle cx="1728.2" cy="1107.1" r="5.75"/>
<circle cx="1730" cy="1094.8" r="5.75"/>
<circle cx="1731.8" cy="1086.7" r="5.75"/>
<circle cx="1733.5" cy="1076.1" r="5.75"/>
<circle cx="1735.3" cy="1066.1" r="5.75"/>
<circle cx="1737.1" cy="1052.3" r="5.75"/>
<circle cx="1738.9" cy="1034.1" r="5.75"/>
<circle cx="1740.7" cy="1066" r="5.75"/>
<circle cx="1742.5" cy="1242.9" r="5.75"/>
<circle cx="1744.3" cy="1315.5" r="5.75"/>
<circle cx="1746.1" cy="1340.1" r="5.75"/>
<circle cx="1747.8" cy="1354.8" r="5.75"/>
<circle cx="1749.6" cy="1372.3" r="5.75"/>
<circle cx="1751.4" cy="1377.9" r="5.75"/>
<circle cx="1753.2" cy="1381.9" r="5.75"/>
<circle cx="1755" cy="1384.9" r="5.75"/>
<circle cx="1756.8" cy="1387.4" r="5.75"/>
<circle cx="1758.6" cy="1389.7" r="5.75"/>
<circle cx="1760.3" cy="1391.7" r="5.75"/>
<circle cx="1762.1" cy="1393.5" r="5.75"/>
<circle cx="1763.9" cy="1395" r="5.75"/>
<circle cx="1765.7" cy="1396.4" r="5.75"/>
<circle cx="1767.5" cy="1397.6" r="5.75"/>
<circle cx="1769.3" cy="1398.8" r="5.75"/>
<circle cx="1771.1" cy="1399.9" r="5.75"/>
<circle cx="1772.8" cy="1400.9" r="5.75"/>
<circle cx="1774.6" cy="1401.9" r="5.75"/>
<circle cx="1776.4" cy="1402.8" r="5.75"/>
<circle cx="1778.2" cy="1403.7" r="5.75"/>
<circle cx="1780" cy="1404.4" r="5.75"/>
<circle cx="1781.8" cy="1405.1" r="5.75"/>
<circle cx="1783.6" cy="1405.8" r="5.75"/>
<circle cx="1785.4" cy="1406.3" r="5.75"/>
<circle cx="1787.1" cy="1406.8" r="5.75"/>
<circle cx="1788.9" cy="1407.2" r="5.75"/>
<circle cx="1790.7" cy="1407.6" r="5.75"/>
<circle cx="1792.5" cy="1408" r="5.75"/>
<circle cx="1794.3" cy="1408.4" r="5.75"/>
<circle cx="1796.1" cy="1408.7" r="5.75"/>
<circle cx="1797.9" cy="1409" r="5.75"/>
<circle cx="1799.6" cy="1409.3" r="5.75"/>
<circle cx="1801.4" cy="1409.6" r="5.75"/>
<circle cx="1803.2" cy="1409.9" r="5.75"/>
<circle cx="1805" cy="1410.1" r="5.75"/>
<circle cx="1806.8" cy="1410.4" r="5.75"/>
<circle cx="1808.6" cy="1410.7" r="5.75"/>
<circle cx="1810.4" cy="1410.9" r="5.75"/>
<circle cx="1812.2" cy="1411.1" r="5.75"/>
<circle cx="1813.9" cy="1411.4" r="5.75"/>
<circle cx="1815.7" cy="1411.6" r="5.75"/>
<circle cx="1817.5" cy="1411.9" r="5.75"/>
<circle cx="1819.3" cy="1412.1" r="5.75"/>
<circle cx="1821.1" cy="1412.4" r="5.75"/>
<circle cx="1822.9" cy="1412.6" r="5.75"/>
<circle cx="1824.7" cy="1412.8" r="5.75"/>
<circle cx="1826.4" cy="1413" r="5.75"/>
<circle cx="1828.2" cy="1413.2" r="5.75"/>
<circle cx="1830" cy="1413.4" r="5.75"/>
<circle cx="1831.8" cy="1413.6" r="5.75"/>
<circle cx="1833.6" cy="1413.8" r="5.75"/>
<circle cx="1835.4" cy="1414" r="5.75"/>
<circle cx="1837.2" cy="1414.1" r="5.75"/>
<circle cx="1839" cy="1414.3" r="5.75"/>
</g>
<rect x="144.5" y="28.3" width="742" height="597.4" fill="none" stroke="#2a2a2a" stroke-width="2.2"/>
<path d="M190.9 625.7v12.5M306.8 625.7v12.5M422.8 625.7v12.5M538.7 625.7v12.5M654.6 625.7v12.5M770.6 625.7v12.5M886.5 625.7v12.5M248.8 625.7v6.5M364.8 625.7v6.5M480.7 625.7v6.5M596.7 625.7v6.5M712.6 625.7v6.5M828.5 625.7v6.5M144.5 591.9h-12.5M144.5 479.2h-12.5M144.5 366.5h-12.5M144.5 253.7h-12.5M144.5 141h-12.5M144.5 28.3h-12.5M144.5 535.5h-6.5M144.5 422.8h-6.5M144.5 310.1h-6.5M144.5 197.4h-6.5M144.5 84.7h-6.5" stroke="#2a2a2a" stroke-width="2.2" fill="none"/>
<text x="190.9" y="666" font-size="25" text-anchor="middle">20</text>
<text x="306.8" y="666" font-size="25" text-anchor="middle">70</text>
<text x="422.8" y="666" font-size="25" text-anchor="middle">120</text>
<text x="538.7" y="666" font-size="25" text-anchor="middle">170</text>
<text x="654.6" y="666" font-size="25" text-anchor="middle">220</text>
<text x="770.6" y="666" font-size="25" text-anchor="middle">270</text>
<text x="886.5" y="666" font-size="25" text-anchor="middle">320</text>
<text x="124" y="600.4" font-size="25" text-anchor="end">0</text>
<text x="124" y="487.7" font-size="25" text-anchor="end">50</text>
<text x="124" y="375" font-size="25" text-anchor="end">100</text>
<text x="124" y="262.2" font-size="25" text-anchor="end">150</text>
<text x="124" y="149.5" font-size="25" text-anchor="end">200</text>
<text x="124" y="36.8" font-size="25" text-anchor="end">250</text>
<rect x="1098.4" y="29" width="741.6" height="596.9" fill="none" stroke="#2a2a2a" stroke-width="2.2"/>
<path d="M1098.4 625.9v12.5M1233.2 625.9v12.5M1368.1 625.9v12.5M1502.9 625.9v12.5M1637.7 625.9v12.5M1772.6 625.9v12.5M1165.8 625.9v6.5M1300.7 625.9v6.5M1435.5 625.9v6.5M1570.3 625.9v6.5M1705.2 625.9v6.5M1840 625.9v6.5M1098.4 597.5h-12.5M1098.4 540.6h-12.5M1098.4 483.8h-12.5M1098.4 426.9h-12.5M1098.4 370.1h-12.5M1098.4 313.2h-12.5M1098.4 256.4h-12.5M1098.4 199.5h-12.5M1098.4 142.7h-12.5M1098.4 85.8h-12.5M1098.4 29h-12.5M1098.4 625.9h-6.5M1098.4 569.1h-6.5M1098.4 512.2h-6.5M1098.4 455.4h-6.5M1098.4 398.5h-6.5M1098.4 341.7h-6.5M1098.4 284.8h-6.5M1098.4 228h-6.5M1098.4 171.1h-6.5M1098.4 114.3h-6.5M1098.4 57.4h-6.5" stroke="#2a2a2a" stroke-width="2.2" fill="none"/>
<text x="1098.4" y="666" font-size="25" text-anchor="middle">0</text>
<text x="1233.2" y="666" font-size="25" text-anchor="middle">50</text>
<text x="1368.1" y="666" font-size="25" text-anchor="middle">100</text>
<text x="1502.9" y="666" font-size="25" text-anchor="middle">150</text>
<text x="1637.7" y="666" font-size="25" text-anchor="middle">200</text>
<text x="1772.6" y="666" font-size="25" text-anchor="middle">250</text>
<text x="1078" y="606" font-size="25" text-anchor="end">0</text>
<text x="1078" y="549.1" font-size="25" text-anchor="end">20</text>
<text x="1078" y="492.3" font-size="25" text-anchor="end">40</text>
<text x="1078" y="435.4" font-size="25" text-anchor="end">60</text>
<text x="1078" y="378.6" font-size="25" text-anchor="end">80</text>
<text x="1078" y="321.7" font-size="25" text-anchor="end">100</text>
<text x="1078" y="264.9" font-size="25" text-anchor="end">120</text>
<text x="1078" y="208" font-size="25" text-anchor="end">140</text>
<text x="1078" y="151.2" font-size="25" text-anchor="end">160</text>
<text x="1078" y="94.3" font-size="25" text-anchor="end">180</text>
<text x="1078" y="37.5" font-size="25" text-anchor="end">200</text>
<rect x="144.5" y="860.7" width="741.5" height="596.9" fill="none" stroke="#2a2a2a" stroke-width="2.2"/>
<path d="M144.5 1457.6v12.5M276.9 1457.6v12.5M409.3 1457.6v12.5M541.7 1457.6v12.5M674.1 1457.6v12.5M806.6 1457.6v12.5M210.7 1457.6v6.5M343.1 1457.6v6.5M475.5 1457.6v6.5M607.9 1457.6v6.5M740.3 1457.6v6.5M872.8 1457.6v6.5M144.5 1429.2h-12.5M144.5 1372.3h-12.5M144.5 1315.5h-12.5M144.5 1258.6h-12.5M144.5 1201.8h-12.5M144.5 1144.9h-12.5M144.5 1088.1h-12.5M144.5 1031.2h-12.5M144.5 974.4h-12.5M144.5 917.5h-12.5M144.5 860.7h-12.5M144.5 1457.6h-6.5M144.5 1400.8h-6.5M144.5 1343.9h-6.5M144.5 1287.1h-6.5M144.5 1230.2h-6.5M144.5 1173.4h-6.5M144.5 1116.5h-6.5M144.5 1059.7h-6.5M144.5 1002.8h-6.5M144.5 946h-6.5M144.5 889.1h-6.5" stroke="#2a2a2a" stroke-width="2.2" fill="none"/>
<text x="144.5" y="1498" font-size="25" text-anchor="middle">0</text>
<text x="276.9" y="1498" font-size="25" text-anchor="middle">50</text>
<text x="409.3" y="1498" font-size="25" text-anchor="middle">100</text>
<text x="541.7" y="1498" font-size="25" text-anchor="middle">150</text>
<text x="674.1" y="1498" font-size="25" text-anchor="middle">200</text>
<text x="806.6" y="1498" font-size="25" text-anchor="middle">250</text>
<text x="124" y="1437.7" font-size="25" text-anchor="end">0</text>
<text x="124" y="1380.8" font-size="25" text-anchor="end">20</text>
<text x="124" y="1324" font-size="25" text-anchor="end">40</text>
<text x="124" y="1267.1" font-size="25" text-anchor="end">60</text>
<text x="124" y="1210.3" font-size="25" text-anchor="end">80</text>
<text x="124" y="1153.4" font-size="25" text-anchor="end">100</text>
<text x="124" y="1096.6" font-size="25" text-anchor="end">120</text>
<text x="124" y="1039.7" font-size="25" text-anchor="end">140</text>
<text x="124" y="982.9" font-size="25" text-anchor="end">160</text>
<text x="124" y="926" font-size="25" text-anchor="end">180</text>
<text x="124" y="869.2" font-size="25" text-anchor="end">200</text>
<rect x="1098.5" y="861.1" width="742.1" height="596.5" fill="none" stroke="#2a2a2a" stroke-width="2.2"/>
<path d="M1098.5 1457.6v12.5M1235.9 1457.6v12.5M1373.4 1457.6v12.5M1510.8 1457.6v12.5M1648.2 1457.6v12.5M1785.6 1457.6v12.5M1167.2 1457.6v6.5M1304.6 1457.6v6.5M1442.1 1457.6v6.5M1579.5 1457.6v6.5M1716.9 1457.6v6.5M1098.5 1422.5h-12.5M1098.5 1352.3h-12.5M1098.5 1282.2h-12.5M1098.5 1212h-12.5M1098.5 1141.8h-12.5M1098.5 1071.6h-12.5M1098.5 1001.5h-12.5M1098.5 931.3h-12.5M1098.5 861.1h-12.5M1098.5 1457.6h-6.5M1098.5 1387.4h-6.5M1098.5 1317.2h-6.5M1098.5 1247.1h-6.5M1098.5 1176.9h-6.5M1098.5 1106.7h-6.5M1098.5 1036.5h-6.5M1098.5 966.4h-6.5M1098.5 896.2h-6.5" stroke="#2a2a2a" stroke-width="2.2" fill="none"/>
<text x="1098.5" y="1498" font-size="25" text-anchor="middle">0</text>
<text x="1235.9" y="1498" font-size="25" text-anchor="middle">50</text>
<text x="1373.4" y="1498" font-size="25" text-anchor="middle">100</text>
<text x="1510.8" y="1498" font-size="25" text-anchor="middle">150</text>
<text x="1648.2" y="1498" font-size="25" text-anchor="middle">200</text>
<text x="1785.6" y="1498" font-size="25" text-anchor="middle">250</text>
<text x="1078" y="1431" font-size="25" text-anchor="end">0</text>
<text x="1078" y="1360.8" font-size="25" text-anchor="end">20</text>
<text x="1078" y="1290.7" font-size="25" text-anchor="end">40</text>
<text x="1078" y="1220.5" font-size="25" text-anchor="end">60</text>
<text x="1078" y="1150.3" font-size="25" text-anchor="end">80</text>
<text x="1078" y="1080.1" font-size="25" text-anchor="end">100</text>
<text x="1078" y="1010" font-size="25" text-anchor="end">120</text>
<text x="1078" y="939.8" font-size="25" text-anchor="end">140</text>
<text x="1078" y="869.6" font-size="25" text-anchor="end">160</text>
<text x="515.5" y="715" font-size="31" text-anchor="middle">Time (sec)</text>
<text x="1469.2" y="715" font-size="31" text-anchor="middle">Time (sec)</text>
<text x="515.2" y="1547" font-size="31" text-anchor="middle">Time (sec)</text>
<text x="1469.5" y="1547" font-size="31" text-anchor="middle">Time (sec)</text>
<text transform="translate(46 315.5) rotate(-90)" font-size="31" text-anchor="middle">Response (R<tspan font-size="19" dy="6">a</tspan><tspan dy="-6">/R</tspan><tspan font-size="19" dy="6">g</tspan><tspan dy="-6">)</tspan></text>
<text transform="translate(1000 315) rotate(-90)" font-size="31" text-anchor="middle">Response (R<tspan font-size="19" dy="6">a</tspan><tspan dy="-6">/R</tspan><tspan font-size="19" dy="6">g</tspan><tspan dy="-6">)</tspan></text>
<text transform="translate(46 1147) rotate(-90)" font-size="31" text-anchor="middle">Response (R<tspan font-size="19" dy="6">a</tspan><tspan dy="-6">/R</tspan><tspan font-size="19" dy="6">g</tspan><tspan dy="-6">)</tspan></text>
<text transform="translate(1000 1147) rotate(-90)" font-size="31" text-anchor="middle">Response (R<tspan font-size="19" dy="6">a</tspan><tspan dy="-6">/R</tspan><tspan font-size="19" dy="6">g</tspan><tspan dy="-6">)</tspan></text>
<text x="14" y="65" font-size="50">(a)</text>
<text x="968" y="65" font-size="50">(b)</text>
<text x="13" y="893" font-size="50">(c)</text>
<text x="966" y="900" font-size="50">(d)</text>
<text x="361" y="176" font-size="27.5">Gas out</text>
<line x1="398.7" y1="182.2" x2="374.1" y2="203.8" stroke="#000" stroke-width="3.2"/>
<polygon points="356.1,219.6 373.2,193.6 374.1,203.8 384.1,206" fill="#000"/>
<text x="169.5" y="517.3" font-size="27.5">Gas in</text>
<line x1="216.7" y1="530" x2="229" y2="555.1" stroke="#000" stroke-width="3.2"/>
<polygon points="239.6,576.6 218.9,553.3 229,555.1 233.8,546" fill="#000"/>
<text x="1327.7" y="130.4" font-size="27.5">Gas out</text>
<line x1="1365.6" y1="137.4" x2="1340.5" y2="158.8" stroke="#000" stroke-width="3.2"/>
<polygon points="1322.2,174.3 1339.7,148.5 1340.5,158.8 1350.4,161.2" fill="#000"/>
<text x="1123.5" y="524.2" font-size="27.5">Gas in</text>
<line x1="1170.6" y1="537.4" x2="1183.2" y2="562.9" stroke="#000" stroke-width="3.2"/>
<polygon points="1193.9,584.4 1173.1,561.2 1183.2,562.9 1188,553.8" fill="#000"/>
<text x="372.3" y="987.4" font-size="27.5">Gas out</text>
<line x1="410.2" y1="993.3" x2="384.9" y2="1015.5" stroke="#000" stroke-width="3.2"/>
<polygon points="366.9,1031.3 384,1005.3 384.9,1015.5 394.9,1017.8" fill="#000"/>
<text x="175.3" y="1357.8" font-size="27.5">Gas in</text>
<line x1="221.1" y1="1370.5" x2="234.4" y2="1396.5" stroke="#000" stroke-width="3.2"/>
<polygon points="245.3,1417.9 224.3,1395 234.4,1396.5 239.1,1387.4" fill="#000"/>
<text x="1289" y="984.5" font-size="27.5">Gas out</text>
<line x1="1326.7" y1="990.9" x2="1301.5" y2="1012.7" stroke="#000" stroke-width="3.2"/>
<polygon points="1283.4,1028.4 1300.6,1002.5 1301.5,1012.7 1311.5,1015" fill="#000"/>
<text x="1113.5" y="1313.8" font-size="27.5">Gas in</text>
<line x1="1136.9" y1="1326.5" x2="1145.6" y2="1377.9" stroke="#000" stroke-width="3.2"/>
<polygon points="1149.6,1401.6 1136.4,1373.4 1145.6,1377.9 1152.8,1370.6" fill="#000"/>
<line x1="560" y1="72.7" x2="633.8" y2="72.7" stroke="#ff0000" stroke-width="4.5"/>
<circle cx="596.9" cy="72.7" r="5.75" fill="#fff" stroke="#2eaa68" stroke-width="2.8"/>
<text x="641" y="84.3" font-size="31">OZN10-Acetone</text>
<text x="559" y="121.2" font-size="31">@ 3000 ppm</text>
<text x="559" y="159.1" font-size="31">@ 25 °C</text>
<line x1="1530.6" y1="60.1" x2="1604.3" y2="60.1" stroke="#ff0000" stroke-width="4.5"/>
<circle cx="1567.4" cy="60.1" r="5.75" fill="#fff" stroke="#2eaa68" stroke-width="2.8"/>
<text x="1610.5" y="71.1" font-size="31">OZN10-Alcohol</text>
<text x="1529.6" y="106" font-size="31">@ 3000 ppm</text>
<text x="1529.6" y="144" font-size="31">@ 25 °C</text>
<line x1="606.2" y1="900" x2="679.3" y2="900" stroke="#ff0000" stroke-width="4.5"/>
<circle cx="642.8" cy="900" r="5.75" fill="#fff" stroke="#2eaa68" stroke-width="2.8"/>
<text x="685.6" y="911.2" font-size="31">OZN10-H<tspan font-size="20" dy="7">2</tspan><tspan dy="-7">O</tspan><tspan font-size="20" dy="7">2</tspan></text>
<text x="605.2" y="947.8" font-size="31">@ 3000 ppm</text>
<text x="605.2" y="986.2" font-size="31">@ 25 °C</text>
<line x1="1582" y1="908.6" x2="1655.7" y2="908.6" stroke="#ff0000" stroke-width="4.5"/>
<circle cx="1618.8" cy="908.6" r="5.75" fill="#fff" stroke="#2eaa68" stroke-width="2.8"/>
<text x="1661.6" y="920.1" font-size="31">OZN10-PA</text>
<text x="1581" y="954.3" font-size="31">@ 3000 ppm</text>
<text x="1581" y="991.2" font-size="31">@ 25 °C</text>
<rect x="632.9" y="2192" width="119.4" height="97.8" fill="#fdcb8f" stroke="#555" stroke-width="2"/>
<rect x="781.2" y="2199" width="119.4" height="90.8" fill="#9dd69b" stroke="#555" stroke-width="2"/>
<rect x="929.4" y="1796.9" width="119.4" height="492.9" fill="#c5b4d7" stroke="#555" stroke-width="2"/>
<rect x="926.4" y="1986.5" width="125.4" height="10.5" fill="#fff"/>
<rect x="1077.6" y="2206.6" width="119.4" height="83.2" fill="#fdfd9e" stroke="#555" stroke-width="2"/>
<rect x="1225.9" y="2224.2" width="119.4" height="65.6" fill="#a0bff5" stroke="#555" stroke-width="2"/>
<path d="M618.5 1692.5H1359.7M618.5 1692.5V1986.5M618.5 1997V2289.8M1359.7 1692.5V1986.5M1359.7 1997V2289.8M606 2289.8H1359.7M618.5 1986.5h-12.5M618.5 1913h-12.5M618.5 1839.5h-12.5M618.5 1766h-12.5M618.5 1692.5h-12.5M618.5 1949.8h-6.5M618.5 1876.2h-6.5M618.5 1802.8h-6.5M618.5 1729.2h-6.5M618.5 2231.2h-12.5M618.5 2172.7h-12.5M618.5 2114.1h-12.5M618.5 2055.6h-12.5M618.5 2260.5h-6.5M618.5 2202h-6.5M618.5 2143.4h-6.5M618.5 2084.8h-6.5M618.5 2026.3h-6.5" stroke="#2a2a2a" stroke-width="2.2" fill="none"/>
<path d="M606.5 1991.1L630 1982.3M606.5 2002.2L630 1992.3" stroke="#2a2a2a" stroke-width="2.2" fill="none"/>
<path d="M1347.7 1991.1L1371.2 1982.3M1347.7 2002.2L1371.2 1992.3" stroke="#2a2a2a" stroke-width="2.2" fill="none"/>
<text x="600" y="1996.3" font-size="28.5" text-anchor="end">15,000</text>
<text x="600" y="1922.8" font-size="28.5" text-anchor="end">20,000</text>
<text x="600" y="1849.3" font-size="28.5" text-anchor="end">25,000</text>
<text x="600" y="1775.8" font-size="28.5" text-anchor="end">30,000</text>
<text x="600" y="1702.3" font-size="28.5" text-anchor="end">35,000</text>
<text x="600" y="2299.6" font-size="28.5" text-anchor="end">0</text>
<text x="600" y="2241" font-size="28.5" text-anchor="end">100</text>
<text x="600" y="2182.5" font-size="28.5" text-anchor="end">200</text>
<text x="600" y="2123.9" font-size="28.5" text-anchor="end">300</text>
<text x="600" y="2065.4" font-size="28.5" text-anchor="end">400</text>
<text x="692.6" y="2326" font-size="28" text-anchor="middle">Acetone</text>
<text x="840.9" y="2326" font-size="28" text-anchor="middle">Alcohol</text>
<text x="989.1" y="2326" font-size="28" text-anchor="middle">NH<tspan font-size="18" dy="6">3</tspan></text>
<text x="1137.3" y="2326" font-size="28" text-anchor="middle">H<tspan font-size="18" dy="6">2</tspan><tspan dy="-6">O</tspan><tspan font-size="18" dy="6">2</tspan></text>
<text x="1285.6" y="2326" font-size="28" text-anchor="middle">PA</text>
<text transform="translate(487.8 1990.5) rotate(-90)" font-size="28" text-anchor="middle">Response (R<tspan font-size="17" dy="6">a</tspan><tspan dy="-6">/R</tspan><tspan font-size="17" dy="6">g</tspan><tspan dy="-6">)</tspan></text>
<text x="447" y="1717" font-size="50">(e)</text>
</svg></body></html>
